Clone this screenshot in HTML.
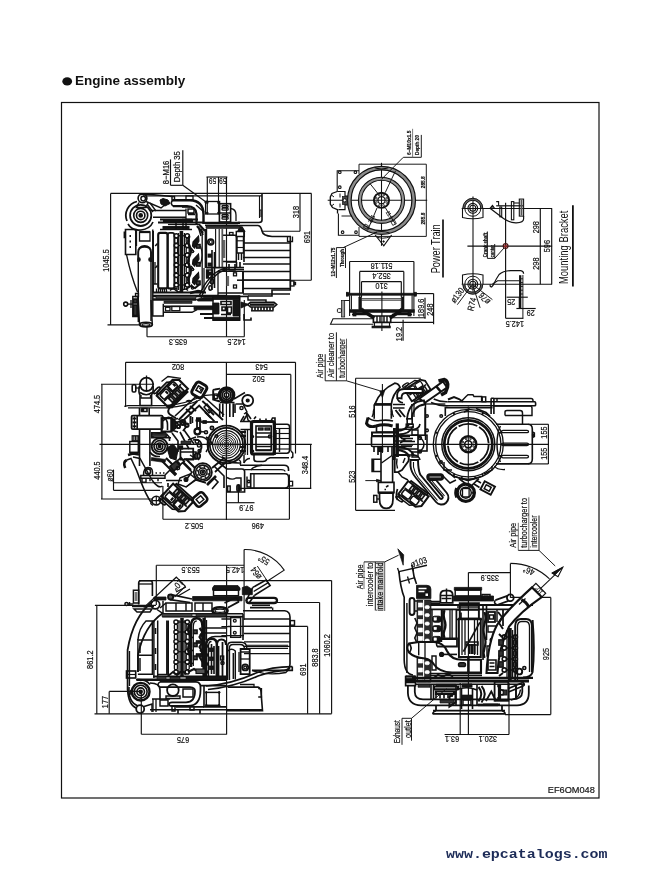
<!DOCTYPE html>
<html><head><meta charset="utf-8"><title>Engine assembly</title>
<style>
html,body{margin:0;padding:0;background:#fff;}
body{width:658px;height:870px;overflow:hidden;position:relative;font-family:"Liberation Sans",sans-serif;}
svg{position:absolute;left:0;top:0;will-change:transform;}
.h1,.ft{will-change:transform;}
svg path,svg circle,svg ellipse,svg rect{fill:none;stroke:#111;stroke-width:1.15;}
svg text{font-family:"Liberation Sans",sans-serif;fill:#111;stroke:#111;stroke-width:0.2;}
.h1{position:absolute;left:75.3px;top:73.5px;transform-origin:0 0;transform:scaleX(1.08);font:bold 12.5px "Liberation Sans",sans-serif;color:#111;white-space:nowrap;}
.ft{position:absolute;left:446px;top:846.7px;font:bold 13.6px "Liberation Mono",monospace;color:#1c2b57;white-space:nowrap;transform-origin:0 0;transform:scaleX(1.1);}
</style></head><body>
<div class="h1">Engine assembly</div>
<div class="ft">www.epcatalogs.com</div>
<svg width="658" height="870" viewBox="0 0 658 870">
<!-- p0_frame -->
<rect x="61.5" y="102.5" width="537.5" height="695.5" style="stroke-width:1.20;stroke:#111"/>
<ellipse cx="67.2" cy="81.4" rx="4.9" ry="4.1" style="stroke-width:0.00;fill:#111"/>
<text transform="translate(571.3 790) rotate(0) scale(1 1)" font-size="9.2" text-anchor="middle" dy="0.35em" style="fill:#222">EF6OM048</text>
<!-- p1_topleft -->
<path d="M110.6 193.4L110.6 324.9"/>
<path d="M110.6 193.4L311.5 193.4"/>
<path d="M107.5 324.9L141 324.9"/>
<text transform="translate(105.6 260.5) rotate(-90) scale(0.82 1)" font-size="9" text-anchor="middle" dy="0.35em">1045.5</text>
<path d="M300 193.4L300 231.2"/>
<path d="M262 231.2L300 231.2"/>
<text transform="translate(296 212) rotate(-90) scale(0.82 1)" font-size="9" text-anchor="middle" dy="0.35em">318</text>
<path d="M311.3 193.4L311.3 280.2"/>
<path d="M237 280.2L311.3 280.2"/>
<text transform="translate(307 237) rotate(-90) scale(0.82 1)" font-size="9" text-anchor="middle" dy="0.35em">691</text>
<path d="M207.3 177L207.3 213.3"/>
<path d="M218.5 177L218.5 213.3"/>
<path d="M226.5 177L226.5 336.7"/>
<path d="M206.5 177L227.3 177"/>
<text transform="translate(212.5 181.6) rotate(180) scale(0.73 1)" font-size="9" text-anchor="middle" dy="0.35em">59</text>
<text transform="translate(222.8 181.6) rotate(180) scale(0.73 1)" font-size="9" text-anchor="middle" dy="0.35em">59</text>
<text transform="translate(165.5 172.4) rotate(-90) scale(0.846 1)" font-size="9" text-anchor="middle" dy="0.35em">8&#8722;M16</text>
<text transform="translate(177 166.7) rotate(-90) scale(0.849 1)" font-size="9" text-anchor="middle" dy="0.35em">Depth 35</text>
<path d="M170.5 159.4L170.5 185.3"/>
<path d="M182.8 150.3L182.8 185.3"/>
<path d="M170.5 185.3L182.8 185.3"/>
<path d="M182.8 185.3L206 202"/>
<path d="M147 326L147 336.7"/>
<path d="M244.3 300L244.3 336.7"/>
<path d="M147 336.7L244.3 336.7"/>
<text transform="translate(178 342.6) rotate(180) scale(0.82 1)" font-size="9" text-anchor="middle" dy="0.35em">635.3</text>
<text transform="translate(236.6 342.6) rotate(180) scale(0.82 1)" font-size="9" text-anchor="middle" dy="0.35em">142.5</text>
<path d="M143 195.8L262 195.8" style="stroke-width:1.30"/>
<path d="M262 193.4V220Q262 222.5 259 222.5H238" style="stroke-width:1.62"/>
<path d="M259.5 196V218" style="stroke-width:1.13"/>
<path d="M259.5 210h1.5v7" style="stroke-width:1.13"/>
<path d="M238 225.5H258Q261 226 262 231Q263 236 272 236.5H290.3V290H272V296H248" style="stroke-width:1.62"/>
<path d="M287.5 236.5V241.5H292.5V236.5" style="stroke-width:1.30"/>
<path d="M243 243L290 243" style="stroke-width:1.30"/>
<path d="M243 250.5L290 250.5" style="stroke-width:1.30"/>
<path d="M243 257.5L290 257.5" style="stroke-width:1.30"/>
<path d="M243 264L290 264" style="stroke-width:1.30"/>
<path d="M243 271.5L290 271.5" style="stroke-width:1.30"/>
<path d="M243 280L290 280" style="stroke-width:1.30"/>
<path d="M243 288.5L290 288.5" style="stroke-width:1.30"/>
<path d="M243 294L290 294" style="stroke-width:1.30"/>
<rect x="290.5" y="281" width="3.5" height="5" style="stroke-width:1.30"/>
<path d="M294 282.5h1.5v2h-1.5z" style="stroke-width:1.30"/>
<path d="M238 231L240 227H242L244.5 231Z" style="stroke-width:1.30;fill:#151515"/>
<path d="M236.3 231.5h8v5h-8zM237 236.5v16.5h6.5v-16.5M238.5 253v7M241.5 253v7" style="stroke-width:1.46"/>
<path d="M237 240.8L243.5 240.8" style="stroke-width:1.13"/>
<path d="M237 247.5L243.5 247.5" style="stroke-width:1.13"/>
<path d="M222.3 235.3H236.3V261.5H222.3" style="stroke-width:1.46"/>
<rect x="229.5" y="232.5" width="3.5" height="2.8" style="stroke-width:1.30"/>
<path d="M224 240L224 258" style="stroke-width:2.59;stroke:#666"/>
<path d="M127 221A14.3 14.3 0 0 1 137 201.5" style="stroke-width:1.78"/>
<circle cx="140.7" cy="215.4" r="10.6" style="stroke-width:1.78"/>
<circle cx="140.7" cy="215.4" r="7" style="stroke-width:1.62"/>
<circle cx="140.7" cy="215.4" r="4.2" style="stroke-width:1.62"/>
<circle cx="140.7" cy="215.4" r="1.6" style="stroke-width:1.46;fill:#151515"/>
<path d="M128 224Q132 231 141 230Q150 229 153 222" style="stroke-width:1.62"/>
<circle cx="142.5" cy="198.3" r="4.4" style="stroke-width:1.62"/>
<circle cx="143.2" cy="198.6" r="2.3" style="stroke-width:1.46"/>
<path d="M140.5 194.4L146 194L172 196.6" style="stroke-width:1.46"/>
<path d="M146 201.5L161 208L166 204" style="stroke-width:1.46"/>
<path d="M160 200L163 198.5L168 200L170 203.5L165 206L161 204Z" style="stroke-width:0.97;fill:#151515"/>
<path d="M139 202.5L136.5 207.5H146L148 203" style="stroke-width:1.46"/>
<path d="M147 204L153 212M150 203L156 211" style="stroke-width:1.30"/>
<path d="M173 200.2H190Q203 200.5 203.5 214V224" style="stroke-width:2.43"/>
<path d="M173 206.2H187Q196 206.5 196.5 214V224" style="stroke-width:2.27"/>
<path d="M173 200.2Q169.5 203 173 206.2" style="stroke-width:1.62"/>
<path d="M172 196.5h2.5v3.5h-2.5z" style="stroke-width:1.46"/>
<path d="M186 195.8h7v4h-7z" style="stroke-width:1.30"/>
<path d="M151 210.5H186M153 217.2H186" style="stroke-width:1.62"/>
<path d="M186 208.5V219" style="stroke-width:1.30"/>
<path d="M182 207h8M182 219.5h10" style="stroke-width:1.30"/>
<path d="M188 209h6v4h-6zM188 214.5h7" style="stroke-width:1.46"/>
<path d="M196 205L204 212" style="stroke-width:1.30"/>
<path d="M158 222.5L204 222.5" style="stroke-width:1.78"/>
<path d="M168 224.5L200 224.5" style="stroke-width:1.30"/>
<path d="M162.5 227.5L189.5 227.5" style="stroke-width:2.92"/>
<path d="M160 229.5H192" style="stroke-width:1.46"/>
<path d="M183 222V230M186 222V230M176 223V229" style="stroke-width:1.46"/>
<path d="M197 226L203 233M199.5 225L205 231" style="stroke-width:2.27"/>
<path d="M204.5 202.5Q206 200.5 208 201.5" style="stroke-width:1.13"/>
<rect x="205.6" y="201.5" width="14" height="12.5" style="stroke-width:1.30"/>
<circle cx="207.3" cy="202.8" r="0.9" style="stroke-width:0.97;fill:#151515"/>
<circle cx="218.5" cy="202.8" r="0.9" style="stroke-width:0.97;fill:#151515"/>
<circle cx="207.3" cy="213" r="0.9" style="stroke-width:0.97;fill:#151515"/>
<circle cx="218.5" cy="213" r="0.9" style="stroke-width:0.97;fill:#151515"/>
<rect x="219.4" y="203.7" width="11.2" height="18.3" style="stroke-width:1.62"/>
<path d="M219.4 213L230.6 213" style="stroke-width:1.46"/>
<rect x="222" y="205.5" width="6.2" height="1.9" style="stroke-width:1.30" rx="0.9"/>
<rect x="222" y="208.2" width="6.2" height="1.9" style="stroke-width:1.30" rx="0.9"/>
<rect x="222" y="214.5" width="6.2" height="1.9" style="stroke-width:1.30" rx="0.9"/>
<rect x="222" y="217.2" width="6.2" height="1.9" style="stroke-width:1.30" rx="0.9"/>
<path d="M230.6 208.5Q236 209 236 215V221" style="stroke-width:1.30"/>
<path d="M204 222.9L240 222.9" style="stroke-width:2.27"/>
<path d="M205 225.2L238 225.2" style="stroke-width:1.46"/>
<path d="M125.5 229.5h10.3v25h-10.3z" style="stroke-width:1.62"/>
<path d="M129.5 236L131 236" style="stroke-width:1.94"/>
<path d="M129.5 241.5L131 241.5" style="stroke-width:1.94"/>
<path d="M129.5 247L131 247" style="stroke-width:1.94"/>
<path d="M124.3 231.5v6h1.2" style="stroke-width:1.46"/>
<path d="M126.5 254.5Q131 276 137.5 292" style="stroke-width:1.30"/>
<path d="M136.4 229.5V246M152.8 229.5V300" style="stroke-width:1.46"/>
<path d="M139.5 232h10.5v9h-10.5z" style="stroke-width:1.30"/>
<path d="M139.5 232L150 232" style="stroke-width:2.27"/>
<path d="M138.2 262V252Q138.2 246.7 144.6 246.7Q151 246.7 151 252V262" style="stroke-width:1.94"/>
<path d="M139.2 248Q144.6 243.5 150 248" style="stroke-width:1.62"/>
<path d="M138.3 262L138.3 322" style="stroke-width:1.46"/>
<path d="M151 262L151 321" style="stroke-width:1.46"/>
<path d="M138.3 300L139.5 324.5M151 300L152.3 324.5" style="stroke-width:1.46"/>
<ellipse cx="139" cy="259.5" rx="1.1" ry="1.6" style="stroke-width:1.30;fill:#151515"/>
<ellipse cx="150" cy="259.5" rx="1.1" ry="1.6" style="stroke-width:1.30;fill:#151515"/>
<ellipse cx="146" cy="324.6" rx="6.3" ry="2.3" style="stroke-width:1.78"/>
<ellipse cx="146" cy="324.8" rx="4" ry="1.2" style="stroke-width:1.13"/>
<circle cx="125.7" cy="304.1" r="2" style="stroke-width:1.62"/>
<path d="M127.7 304.1L132.8 304.1" style="stroke-width:1.30"/>
<path d="M132.8 296.5h5v20h-5z" style="stroke-width:1.46"/>
<path d="M133.6 299h3.4v4h-3.4zM133.6 305h3.4v10.5h-3.4z" style="stroke-width:1.30;fill:#333"/>
<path d="M131 300v8" style="stroke-width:1.30"/>
<path d="M135.5 293.5h3v3h-3z" style="stroke-width:1.30"/>
<rect x="158.2" y="232.9" width="9.3" height="55.5" style="stroke-width:2.11" rx="2"/>
<rect x="167.8" y="232.9" width="6.5" height="55.5" style="stroke-width:1.78" rx="2"/>
<path d="M153.3 231V292" style="stroke-width:1.46"/>
<path d="M155.2 246L157.5 243.5M155.2 268L157.5 265.5" style="stroke-width:1.46"/>
<path d="M155 262v22M153.5 284h4" style="stroke-width:1.30"/>
<path d="M181.4 231L181.4 292" style="stroke-width:3.56"/>
<path d="M184.4 233L184.4 290" style="stroke-width:1.30"/>
<path d="M178.6 233L178.6 290" style="stroke-width:1.13"/>
<circle cx="176.3" cy="235.8" r="2.1" style="stroke-width:1.46"/>
<circle cx="187.3" cy="235.8" r="2.1" style="stroke-width:1.46"/>
<path d="M178.5 235.8h6" style="stroke-width:1.30"/>
<circle cx="176.3" cy="245.5" r="2.1" style="stroke-width:1.46"/>
<circle cx="187.3" cy="245.5" r="2.1" style="stroke-width:1.46"/>
<path d="M178.5 245.5h6" style="stroke-width:1.30"/>
<circle cx="176.3" cy="255.2" r="2.1" style="stroke-width:1.46"/>
<circle cx="187.3" cy="255.2" r="2.1" style="stroke-width:1.46"/>
<path d="M178.5 255.2h6" style="stroke-width:1.30"/>
<circle cx="176.3" cy="265" r="2.1" style="stroke-width:1.46"/>
<circle cx="187.3" cy="265" r="2.1" style="stroke-width:1.46"/>
<path d="M178.5 265h6" style="stroke-width:1.30"/>
<circle cx="176.3" cy="275.3" r="2.1" style="stroke-width:1.46"/>
<circle cx="187.3" cy="275.3" r="2.1" style="stroke-width:1.46"/>
<path d="M178.5 275.3h6" style="stroke-width:1.30"/>
<circle cx="176.3" cy="285" r="2.1" style="stroke-width:1.46"/>
<circle cx="187.3" cy="285" r="2.1" style="stroke-width:1.46"/>
<path d="M178.5 285h6" style="stroke-width:1.30"/>
<rect x="174.6" y="237.9" width="3" height="5.2" style="stroke-width:1.30" rx="1"/>
<rect x="186.2" y="237.9" width="3" height="5.2" style="stroke-width:1.30" rx="1"/>
<rect x="174.6" y="247.7" width="3" height="5.2" style="stroke-width:1.30" rx="1"/>
<rect x="186.2" y="247.7" width="3" height="5.2" style="stroke-width:1.30" rx="1"/>
<rect x="174.6" y="257.4" width="3" height="5.2" style="stroke-width:1.30" rx="1"/>
<rect x="186.2" y="257.4" width="3" height="5.2" style="stroke-width:1.30" rx="1"/>
<rect x="174.6" y="267.4" width="3" height="5.2" style="stroke-width:1.30" rx="1"/>
<rect x="186.2" y="267.4" width="3" height="5.2" style="stroke-width:1.30" rx="1"/>
<rect x="174.6" y="277.4" width="3" height="5.2" style="stroke-width:1.30" rx="1"/>
<rect x="186.2" y="277.4" width="3" height="5.2" style="stroke-width:1.30" rx="1"/>
<path d="M193 242L198.5 236L199 241L194.5 248L192.5 246Z" style="stroke-width:1.13;fill:#151515"/>
<rect x="196.5" y="244.5" width="3.6" height="3.6" style="stroke-width:1.46;fill:#444"/>
<path d="M191 248l3 4" style="stroke-width:1.46"/>
<circle cx="192.5" cy="251.5" r="1.1" style="stroke-width:1.30"/>
<path d="M193 260L198.5 254L199 259L194.5 266L192.5 264Z" style="stroke-width:1.13;fill:#151515"/>
<rect x="196.5" y="262.5" width="3.6" height="3.6" style="stroke-width:1.46;fill:#444"/>
<path d="M191 266l3 4" style="stroke-width:1.46"/>
<circle cx="192.5" cy="269.5" r="1.1" style="stroke-width:1.30"/>
<path d="M193 278.5L198.5 272.5L199 277.5L194.5 284.5L192.5 282.5Z" style="stroke-width:1.13;fill:#151515"/>
<rect x="196.5" y="281" width="3.6" height="3.6" style="stroke-width:1.46;fill:#444"/>
<path d="M191 284.5l3 4" style="stroke-width:1.46"/>
<circle cx="192.5" cy="288" r="1.1" style="stroke-width:1.30"/>
<path d="M199 229l2 7M201 229l2 6" style="stroke-width:1.62"/>
<path d="M202.2 231L202.2 290" style="stroke-width:1.30"/>
<path d="M205.9 229L205.9 268" style="stroke-width:2.59"/>
<path d="M204 268L204 292" style="stroke-width:1.30"/>
<path d="M200.5 246Q203.5 255 200.5 264" style="stroke-width:1.13"/>
<circle cx="210.7" cy="242" r="2.9" style="stroke-width:1.78"/>
<circle cx="210.7" cy="242" r="1.5" style="stroke-width:1.13"/>
<path d="M215.6 229L215.6 268" style="stroke-width:1.13"/>
<path d="M219.2 229L219.2 268" style="stroke-width:1.13"/>
<path d="M222.3 229L222.3 268" style="stroke-width:1.78;stroke:#555"/>
<path d="M199 297Q203 285 210 278Q217 269 228 267.6" style="stroke-width:1.46"/>
<path d="M201 298Q206 285 213 278Q219 271 228 269.5" style="stroke-width:1.30"/>
<path d="M206.5 270h6v8h-6z" style="stroke-width:1.30"/>
<path d="M208 270v8" style="stroke-width:2.11"/>
<ellipse cx="212" cy="281.5" rx="1.6" ry="2.6" style="stroke-width:1.46"/>
<ellipse cx="210.3" cy="288" rx="1.4" ry="2.2" style="stroke-width:1.46"/>
<path d="M206 267.6L244 267.6" style="stroke-width:1.62"/>
<path d="M222 269.5L244 269.5" style="stroke-width:1.13"/>
<path d="M218 271.2H243V293H218" style="stroke-width:1.62"/>
<path d="M218 271.2L218 296" style="stroke-width:1.30"/>
<rect x="233.5" y="272.8" width="3" height="3" style="stroke-width:1.30"/>
<rect x="233.5" y="285" width="3" height="3" style="stroke-width:1.30"/>
<path d="M227.8 276L227.8 286" style="stroke-width:2.59;stroke:#666"/>
<path d="M237 280.2L244 280.2" style="stroke-width:1.30"/>
<path d="M243 271v22" style="stroke-width:1.62"/>
<path d="M152.8 292.5L206 292.5" style="stroke-width:1.78"/>
<path d="M152.8 296L226 296" style="stroke-width:2.27"/>
<path d="M156.5 288.5L156.5 292.5" style="stroke-width:1.30"/>
<path d="M158.5 288.5L158.5 292.5" style="stroke-width:1.30"/>
<path d="M160.5 288.5L160.5 292.5" style="stroke-width:1.30"/>
<path d="M162.5 288.5L162.5 292.5" style="stroke-width:1.30"/>
<path d="M164.5 288.5L164.5 292.5" style="stroke-width:1.30"/>
<path d="M166.5 288.5L166.5 292.5" style="stroke-width:1.30"/>
<path d="M168 288.5h9v4M170 290.5q3 -3 6 0q3 3 6 0q3 -3 6 0" style="stroke-width:1.46"/>
<path d="M186 289l5 -3l4 2l5 -4" style="stroke-width:1.94"/>
<path d="M190 293l8 -2l6 1" style="stroke-width:2.43"/>
<path d="M152.8 299.5L196 299.5" style="stroke-width:2.43"/>
<path d="M152.8 300V316H163.3V303.8" style="stroke-width:1.46"/>
<path d="M163.3 306.2H194M163.3 312.3H192L197 309.7" style="stroke-width:1.46"/>
<rect x="165.5" y="307.3" width="4.5" height="3.5" style="stroke-width:1.30"/>
<rect x="171.8" y="306.5" width="8" height="4.2" style="stroke-width:1.30"/>
<path d="M194 305.9H215.3V309.7H194Z" style="stroke-width:0.81;fill:#151515"/>
<path d="M196 299.5L204 297.5H213V301H198Z" style="stroke-width:0.81;fill:#151515"/>
<path d="M213 296H239.7V320.3H213Z" style="stroke-width:1.46"/>
<path d="M213 296H239.7V299.5H213ZM213 317.3H239.7V320.3H213ZM213 303H219V314H213ZM233 300H239.7V316H233Z" style="stroke-width:0.81;fill:#151515"/>
<path d="M221 301.5h10v3h-10zM222 307h3.4v3.4h-3.4zM227.5 307h4v6h-4zM221 314.5h10" style="stroke-width:1.62"/>
<path d="M241 302L249 304.5L241 308Z" style="stroke-width:0.81;fill:#151515"/>
<path d="M200 314H213M204 318H213" style="stroke-width:1.94"/>
<path d="M238 296.5L248 296.3V300H266V303" style="stroke-width:1.46"/>
<path d="M250.5 302.3H274L276.7 304.6L274 307H250.5L247.8 304.6Z" style="stroke-width:1.62"/>
<path d="M250 304.6L274.5 304.6" style="stroke-width:2.43"/>
<path d="M252 307L252 310.5" style="stroke-width:1.62"/>
<path d="M255 307L255 310.5" style="stroke-width:1.62"/>
<path d="M258 307L258 310.5" style="stroke-width:1.62"/>
<path d="M261 307L261 310.5" style="stroke-width:1.62"/>
<path d="M264 307L264 310.5" style="stroke-width:1.62"/>
<path d="M267 307L267 310.5" style="stroke-width:1.62"/>
<path d="M270 307L270 310.5" style="stroke-width:1.62"/>
<path d="M273 307L273 310.5" style="stroke-width:1.62"/>
<path d="M251 310.8L273.5 310.8" style="stroke-width:1.46"/>
<path d="M244 314v6h7v-2.5" style="stroke-width:1.62"/>
<path d="M189.5 236q-2.5 5 0 10q2.5 5 0 10q-2.5 5 0 10q2.5 5 0 10q-2.5 4 0 8" style="stroke-width:2.43"/>
<path d="M212 250V290M214.5 252V288" style="stroke-width:1.62"/>
<rect x="208" y="254" width="3.6" height="3.2" style="stroke-width:0.81;fill:#151515"/>
<rect x="208" y="263" width="3.6" height="3.2" style="stroke-width:0.81;fill:#151515"/>
<rect x="208" y="272" width="3.6" height="3.2" style="stroke-width:0.81;fill:#151515"/>
<path d="M226.5 262h10M229 264v6h6v-6" style="stroke-width:1.62"/>
<path d="M164 301h28v2.4h-28z" style="stroke-width:0.65;fill:#333"/>
<path d="M156 296h40v2.6h-40z" style="stroke-width:0.65;fill:#444"/>
<path d="M160 219.5h38M163 221h30" style="stroke-width:2.11"/>
<path d="M206 226h34v2.4h-34z" style="stroke-width:0.65;fill:#333"/>
<path d="M236.5 262V268M240 262V268" style="stroke-width:1.62"/>
<path d="M244 232V262" style="stroke-width:1.62"/>
<!-- p2_midleft -->
<path d="M125.6 362.3L295.5 362.3"/>
<path d="M125.6 362.3L125.6 407"/>
<path d="M295.5 362.3L295.5 453.5"/>
<path d="M226.4 362.3L226.4 520"/>
<text transform="translate(178 367.2) rotate(180) scale(0.82 1)" font-size="9" text-anchor="middle" dy="0.35em">802</text>
<text transform="translate(261.6 367.2) rotate(180) scale(0.82 1)" font-size="9" text-anchor="middle" dy="0.35em">543</text>
<path d="M226.4 374.4L290.8 374.4"/>
<path d="M290.8 374.4L290.8 451"/>
<text transform="translate(258.6 379.5) rotate(180) scale(0.82 1)" font-size="9" text-anchor="middle" dy="0.35em">502</text>
<path d="M101.9 384.2L101.9 499"/>
<path d="M101 384.2L153.4 384.2"/>
<path d="M99.5 444.4L311.8 444.4"/>
<path d="M101 499L153 499"/>
<text transform="translate(96.8 404) rotate(-90) scale(0.82 1)" font-size="9" text-anchor="middle" dy="0.35em">474.5</text>
<text transform="translate(96.8 470.5) rotate(-90) scale(0.82 1)" font-size="9" text-anchor="middle" dy="0.35em">440.5</text>
<text transform="translate(109.5 475.5) rotate(-90) scale(0.8 1)" font-size="9" text-anchor="middle" dy="0.35em">&#248;60</text>
<path d="M113.5 469.6L113.5 490.3"/>
<path d="M113.5 482.7L162 482.7"/>
<path d="M113.5 490.3L160 490.3"/>
<path d="M310.6 444.4L310.6 488.3"/>
<path d="M238.4 488.3L311.3 488.3"/>
<text transform="translate(305.3 465) rotate(-90) scale(0.82 1)" font-size="9" text-anchor="middle" dy="0.35em">348.4</text>
<path d="M162.9 519.2L289.4 519.2"/>
<path d="M162.9 486L162.9 519.2"/>
<path d="M289.4 474.5L289.4 519.2"/>
<text transform="translate(194 525.7) rotate(180) scale(0.82 1)" font-size="9" text-anchor="middle" dy="0.35em">505.2</text>
<text transform="translate(257.8 525.7) rotate(180) scale(0.82 1)" font-size="9" text-anchor="middle" dy="0.35em">496</text>
<path d="M226.4 502.7L254.5 502.7"/>
<path d="M238.4 486L238.4 502.7"/>
<text transform="translate(246.3 508.3) rotate(180) scale(0.82 1)" font-size="9" text-anchor="middle" dy="0.35em">97.9</text>
<circle cx="146.5" cy="384.3" r="6.7" style="stroke-width:1.78"/>
<path d="M146.5 375.5L146.5 390" style="stroke-width:1.30"/>
<path d="M139.4 386Q138.2 392.5 140 395V405.5H151.6V395Q153.8 391 153.2 386" style="stroke-width:1.62"/>
<path d="M140 392.5Q146.5 397 152 392.5" style="stroke-width:1.62"/>
<path d="M141 395v3h9.5v-3" style="stroke-width:1.30"/>
<rect x="132.2" y="384.8" width="3.6" height="7.2" style="stroke-width:1.62" rx="1.2"/>
<path d="M135.8 388L139.4 388" style="stroke-width:1.30"/>
<path d="M124.3 406.3L128 405.6H170M128 407.9H168" style="stroke-width:1.30"/>
<path d="M139.5 408V415.5M149.2 408V415.5M142 408.5h5v3h-5z" style="stroke-width:1.62"/>
<rect x="141.2" y="409.3" width="2.4" height="2" style="stroke-width:1.13;fill:#151515"/>
<rect x="131.6" y="415.6" width="31" height="13.6" style="stroke-width:1.78" rx="1.2"/>
<path d="M137.2 415.6V429.2" style="stroke-width:1.62"/>
<path d="M132.5 418.5L136.5 418.5" style="stroke-width:1.94"/>
<path d="M132.5 422.4L136.5 422.4" style="stroke-width:1.94"/>
<path d="M132.5 426.3L136.5 426.3" style="stroke-width:1.94"/>
<path d="M134.4 416.5L134.4 428.5" style="stroke-width:1.13"/>
<path d="M162.6 417Q167.5 419 167.5 424.5V430" style="stroke-width:1.62"/>
<path d="M139.5 429.2V466M149.9 429.2V466" style="stroke-width:1.62"/>
<rect x="132.2" y="435.8" width="6.1" height="5" style="stroke-width:1.30"/>
<path d="M133.8 436L133.8 440.5" style="stroke-width:1.13"/>
<path d="M135.4 436L135.4 440.5" style="stroke-width:1.13"/>
<path d="M137 436L137 440.5" style="stroke-width:1.13"/>
<rect x="129.8" y="441.5" width="8.5" height="10.8" style="stroke-width:1.46"/>
<path d="M128 455L133 453.5L139 454.5" style="stroke-width:2.59"/>
<circle cx="159.6" cy="446.2" r="7.9" style="stroke-width:1.94"/>
<circle cx="159.6" cy="446.2" r="5.6" style="stroke-width:1.62"/>
<circle cx="159.6" cy="446.2" r="3.2" style="stroke-width:1.46"/>
<circle cx="159.6" cy="446.2" r="1.3" style="stroke-width:1.30;fill:#151515"/>
<path d="M151.5 434H166.5L169.5 437.5V441" style="stroke-width:1.62"/>
<path d="M152 436.5Q159 431.5 167 436.5" style="stroke-width:2.11"/>
<path d="M150 452Q153 457 160 456.5" style="stroke-width:1.62"/>
<g transform="translate(172.3 392.3) rotate(45) scale(1 1)">
<path d="M-8.5 13.5V-9L-4 -13.5H8.5V13.5Z" style="stroke-width:2.11"/>
<path d="M0.5 -12V12" style="stroke-width:1.62"/>
<rect x="-7" y="-8.5" width="6.5" height="8.5" style="stroke-width:1.62" rx="1.5"/>
<rect x="-7" y="1.5" width="6.5" height="9.5" style="stroke-width:1.62" rx="1.5"/>
<rect x="1.8" y="-9.5" width="5.4" height="3" style="stroke-width:1.62;fill:#bbb"/>
<rect x="1.8" y="-5" width="5.4" height="3" style="stroke-width:1.62;fill:#bbb"/>
<rect x="1.8" y="-0.5" width="5.4" height="3" style="stroke-width:1.62;fill:#bbb"/>
<rect x="1.8" y="4" width="5.4" height="3" style="stroke-width:1.62;fill:#bbb"/>
<path d="M-8.5 -1H0.5" style="stroke-width:1.62"/>
<path d="M-5.5 -6.5h3.5M-5.5 4h3.5" style="stroke-width:2.27"/>
<path d="M8.5 -11H10.5V11H8.5" style="stroke-width:1.94"/>
<path d="M-8.5 -6L-11 -3V10L-8.5 13.5" style="stroke-width:1.62"/>
<ellipse cx="-12.2" cy="9.5" rx="1.5" ry="4.2" style="stroke-width:1.78"/>
</g>
<path d="M161.5 381.5L168 376.5L181 378.3" style="stroke-width:1.30"/>
<g transform="translate(199.3 390) rotate(30)">
<rect x="-6" y="-7" width="12" height="14" style="stroke-width:2.92" rx="3"/>
<rect x="-2.8" y="-3.2" width="5.6" height="5" style="stroke-width:1.62"/>
<path d="M-1 -1.5h2.5v2" style="stroke-width:1.30"/>
<path d="M-5.5 -3.5Q-8 0 -5.5 3.5" style="stroke-width:1.62"/>
</g>
<path d="M178.6 420L197.4 401M181.6 422L199.2 405.5L214.4 421.3M202.3 401L223 420" style="stroke-width:1.94"/>
<path d="M169 409L187 391M175 416L196.5 396" style="stroke-width:1.62"/>
<path d="M203 396L224 415" style="stroke-width:1.62"/>
<path d="M167 405.5Q185 404 200 397Q210 393.5 219 396" style="stroke-width:1.30"/>
<path d="M168 407.5Q186 406.5 201 399.5" style="stroke-width:1.30"/>
<path d="M186 401.5q3 -2 6 0M207 404l5 6l-3 3l-5 -6z" style="stroke-width:1.46"/>
<path d="M169 409Q167 412 170 414.5L175.9 418.2" style="stroke-width:1.94"/>
<path d="M163 421Q168 414 174 420L180 426" style="stroke-width:1.62"/>
<rect x="161.6" y="418.2" width="9.7" height="13.4" style="stroke-width:2.11"/>
<path d="M171.3 420L178 418.5M171.3 430L178 432" style="stroke-width:1.46"/>
<circle cx="226.6" cy="395" r="7" style="stroke-width:3.56"/>
<circle cx="226.6" cy="395" r="4.3" style="stroke-width:1.78"/>
<circle cx="226.6" cy="395" r="2.3" style="stroke-width:1.62"/>
<path d="M213.2 391Q213 389.5 215 389.5L220 388.6M213.2 391V399.5L220 401.5" style="stroke-width:1.94"/>
<rect x="214.3" y="394" width="3" height="4.5" style="stroke-width:1.30"/>
<path d="M220 402.5h14.5M219.7 403.5V417M222.8 403.5V417M229.8 403.5V417M233.2 403.5V417M235 403.5V413" style="stroke-width:1.62"/>
<circle cx="247.7" cy="400.5" r="5.5" style="stroke-width:1.78"/>
<circle cx="247.7" cy="400.5" r="1.3" style="stroke-width:1.62;fill:#151515"/>
<path d="M234 399L245 392.5M236 404L243 404" style="stroke-width:1.46"/>
<path d="M243.5 405L247 412L244 414" style="stroke-width:1.46"/>
<circle cx="241.5" cy="408" r="1.6" style="stroke-width:1.46"/>
<path d="M246 412l2 8l4 3M244 416l-3 5" style="stroke-width:1.46"/>
<circle cx="226.4" cy="444.4" r="18.8" style="stroke-width:1.94"/>
<circle cx="226.4" cy="444.4" r="16.6" style="stroke-width:1.78"/>
<circle cx="226.4" cy="444.4" r="13.8" style="stroke-width:1.30"/>
<circle cx="226.4" cy="444.4" r="11.6" style="stroke-width:0.97"/>
<circle cx="226.4" cy="444.4" r="9.6" style="stroke-width:0.97"/>
<circle cx="226.4" cy="444.4" r="7.8" style="stroke-width:0.97"/>
<circle cx="226.4" cy="444.4" r="6" style="stroke-width:0.97"/>
<circle cx="226.4" cy="444.4" r="4.3" style="stroke-width:0.97"/>
<circle cx="226.4" cy="444.4" r="2.6" style="stroke-width:0.97"/>
<circle cx="226.4" cy="444.4" r="1.2" style="stroke-width:0.97"/>
<path d="M196 418.2h5M197 418.2V428h3V418.2M195.5 420.5h6" style="stroke-width:1.78"/>
<rect x="196.8" y="419" width="3.4" height="2.2" style="stroke-width:0.97;fill:#151515"/>
<circle cx="197.4" cy="431.6" r="2.9" style="stroke-width:2.27"/>
<circle cx="206" cy="432.2" r="1.5" style="stroke-width:1.62"/>
<path d="M200.3 431.8h4.2" style="stroke-width:1.46"/>
<path d="M201 422L218 422" style="stroke-width:1.78"/>
<rect x="203" y="420.8" width="3.2" height="2.4" style="stroke-width:1.30;fill:#151515"/>
<path d="M190.5 416L190.5 424" style="stroke-width:2.11"/>
<path d="M192.5 417L192.5 423" style="stroke-width:1.46"/>
<circle cx="182.8" cy="422.5" r="2.3" style="stroke-width:2.59"/>
<circle cx="186.8" cy="425.3" r="1.7" style="stroke-width:2.11"/>
<circle cx="178.5" cy="426.5" r="1.6" style="stroke-width:1.94"/>
<path d="M176 423q4 -3 8 0l2 4l-3 4" style="stroke-width:1.94"/>
<path d="M172 418l4 4v6l-4 3z" style="stroke-width:1.46;fill:#151515"/>
<path d="M184 430L194 444M180 432L189 449" style="stroke-width:1.62"/>
<path d="M193 440Q199 438.5 201 443Q203 448 199 452Q196 456 199 460" style="stroke-width:1.78"/>
<path d="M197 437Q205 436 208 441Q210 446 206 452" style="stroke-width:1.46"/>
<circle cx="197.4" cy="456" r="2.8" style="stroke-width:1.78"/>
<circle cx="199" cy="445.5" r="1.6" style="stroke-width:1.46"/>
<rect x="180.4" y="448.6" width="12.8" height="11" style="stroke-width:1.78"/>
<path d="M172 433L178 441V452" style="stroke-width:1.62"/>
<path d="M171 437.7H151.8V432.8H166" style="stroke-width:1.62"/>
<path d="M167 448L173 444L178 450L176 460L170 458Z" style="stroke-width:0.97;fill:#151515"/>
<rect x="178.5" y="446" width="4" height="3" style="stroke-width:1.30;fill:#151515"/>
<path d="M166 458L178 470M162 461L176 475" style="stroke-width:2.11"/>
<g transform="translate(175 466) rotate(-40)">
<rect x="-4" y="-3" width="8" height="6" style="stroke-width:1.62;fill:#333"/>
<rect x="5" y="-2.5" width="5" height="5" style="stroke-width:1.62"/>
</g>
<circle cx="178" cy="468" r="1.6" style="stroke-width:1.46"/>
<path d="M181 452H196V459H184" style="stroke-width:1.46"/>
<path d="M182 462L192 472L186 480" style="stroke-width:1.62"/>
<circle cx="197" cy="441.5" r="1.8" style="stroke-width:1.46"/>
<circle cx="199.5" cy="451" r="1.5" style="stroke-width:1.46"/>
<path d="M188 440l8 -3M190 455l6 4" style="stroke-width:1.46"/>
<path d="M126.8 460Q122.5 462 125.2 468" style="stroke-width:2.59"/>
<path d="M126.8 460L131 458.5Q137 470 141 482Q146 495 151.5 503" style="stroke-width:1.62"/>
<path d="M133 457L140 458.5L152 480" style="stroke-width:1.46"/>
<path d="M140.8 475.5H165V478.3H140.8ZM142 478.3V482.3H146V478.3M150 478.3v3M158 478.3v3" style="stroke-width:1.46"/>
<circle cx="148" cy="471.5" r="2.6" style="stroke-width:1.62"/>
<path d="M143.5 475.5Q143.5 467.5 148 467.5Q152.5 467.5 152.5 472V475.5" style="stroke-width:1.46"/>
<path d="M155.5 473L157 473" style="stroke-width:1.62"/>
<path d="M159.5 473L161 473" style="stroke-width:1.62"/>
<path d="M163 473L164.5 473" style="stroke-width:1.62"/>
<path d="M165 475L170 470L175 474" style="stroke-width:1.46"/>
<circle cx="156.3" cy="500.6" r="4.4" style="stroke-width:1.62"/>
<path d="M156.3 496.5V504.7M152.3 500.6H160.3" style="stroke-width:1.13"/>
<path d="M150.4 503.3L153 505.5M160 497L164 492.7" style="stroke-width:1.46"/>
<path d="M152 480Q158 489 162.5 486" style="stroke-width:1.46"/>
<circle cx="202.8" cy="472.3" r="9.1" style="stroke-width:1.78"/>
<circle cx="202.8" cy="472.3" r="7.2" style="stroke-width:1.62"/>
<circle cx="202.8" cy="472.3" r="4.2" style="stroke-width:1.46"/>
<circle cx="202.8" cy="472.3" r="2.4" style="stroke-width:1.46"/>
<circle cx="202.8" cy="472.3" r="1" style="stroke-width:1.13;fill:#151515"/>
<circle cx="208.2" cy="474" r="0.6" style="stroke-width:0.81;fill:#151515"/>
<circle cx="205.5" cy="477.3" r="0.6" style="stroke-width:0.81;fill:#151515"/>
<circle cx="201.1" cy="477.7" r="0.6" style="stroke-width:0.81;fill:#151515"/>
<circle cx="197.8" cy="475" r="0.6" style="stroke-width:0.81;fill:#151515"/>
<circle cx="197.4" cy="470.6" r="0.6" style="stroke-width:0.81;fill:#151515"/>
<circle cx="200.1" cy="467.3" r="0.6" style="stroke-width:0.81;fill:#151515"/>
<circle cx="204.5" cy="466.9" r="0.6" style="stroke-width:0.81;fill:#151515"/>
<circle cx="207.8" cy="469.6" r="0.6" style="stroke-width:0.81;fill:#151515"/>
<g transform="translate(177.5 499) rotate(-48) scale(1 -1)">
<path d="M-8.5 13.5V-9L-4 -13.5H8.5V13.5Z" style="stroke-width:2.11"/>
<path d="M0.5 -12V12" style="stroke-width:1.62"/>
<rect x="-7" y="-8.5" width="6.5" height="8.5" style="stroke-width:1.62" rx="1.5"/>
<rect x="-7" y="1.5" width="6.5" height="9.5" style="stroke-width:1.62" rx="1.5"/>
<rect x="1.8" y="-9.5" width="5.4" height="3" style="stroke-width:1.62;fill:#bbb"/>
<rect x="1.8" y="-5" width="5.4" height="3" style="stroke-width:1.62;fill:#bbb"/>
<rect x="1.8" y="-0.5" width="5.4" height="3" style="stroke-width:1.62;fill:#bbb"/>
<rect x="1.8" y="4" width="5.4" height="3" style="stroke-width:1.62;fill:#bbb"/>
<path d="M-8.5 -1H0.5" style="stroke-width:1.62"/>
<path d="M-5.5 -6.5h3.5M-5.5 4h3.5" style="stroke-width:2.27"/>
<path d="M8.5 -11H10.5V11H8.5" style="stroke-width:1.94"/>
<path d="M-8.5 -6L-11 -3V10L-8.5 13.5" style="stroke-width:1.62"/>
<ellipse cx="-12.2" cy="9.5" rx="1.5" ry="4.2" style="stroke-width:1.78"/>
</g>
<g transform="translate(200 499.5) rotate(-40)">
<rect x="-6.5" y="-5.5" width="13" height="11" style="stroke-width:2.59" rx="3"/>
<rect x="-3" y="-2.5" width="6" height="5" style="stroke-width:1.46"/>
</g>
<path d="M186 487L196 480L206 483" style="stroke-width:1.46"/>
<path d="M180 478L190 474L196 479L186 487L178 484Z" style="stroke-width:1.46"/>
<circle cx="186" cy="479.5" r="1.9" style="stroke-width:1.30;fill:#151515"/>
<path d="M208 483L214 478L218 482L212 489" style="stroke-width:1.62"/>
<path d="M212 468L224 458M215 472L226 462" style="stroke-width:1.78"/>
<path d="M207 485L216 476" style="stroke-width:2.59"/>
<rect x="251.5" y="421.5" width="22.8" height="32.5" style="stroke-width:3.24" rx="2"/>
<rect x="256" y="426" width="15.2" height="24" style="stroke-width:1.62"/>
<path d="M256 433h15.2M256 437h15.2M256 446.5h15.2M256 450.5h15.2" style="stroke-width:1.46"/>
<rect x="258.5" y="428" width="4.5" height="2" style="stroke-width:1.30;fill:#555"/>
<rect x="265" y="428" width="4.5" height="2" style="stroke-width:1.30;fill:#555"/>
<circle cx="270" cy="436.5" r="1.6" style="stroke-width:1.46"/>
<circle cx="252.7" cy="436.5" r="0.9" style="stroke-width:1.30"/>
<circle cx="252.7" cy="451" r="0.9" style="stroke-width:1.30"/>
<path d="M254 419l2 -2.5M260 420.5v-2M266 420.5v-2M271 421l1.5 -3h2.5V455" style="stroke-width:1.62"/>
<path d="M274.5 424.3H287Q289.5 424.3 289.5 427V450Q289.5 453.2 287 453.2H274.5" style="stroke-width:1.46"/>
<path d="M274.5 428.5L289.5 428.5" style="stroke-width:1.13"/>
<path d="M274.5 433.5L289.5 433.5" style="stroke-width:1.13"/>
<path d="M274.5 438.5L289.5 438.5" style="stroke-width:1.13"/>
<path d="M274.5 449L289.5 449" style="stroke-width:1.13"/>
<path d="M291 451l1.8 2v4l-1.8 1" style="stroke-width:1.46"/>
<path d="M240 421.5H251.5M243 421.5L247.5 414L251 419" style="stroke-width:1.62"/>
<path d="M245 430V455M247.5 430V455" style="stroke-width:1.30"/>
<path d="M240.5 429.5H251.5" style="stroke-width:1.46"/>
<path d="M254 455V459Q254 461.5 257 461.5H263Q266 461.5 267 459L270 457.8H289" style="stroke-width:1.62"/>
<path d="M244 463Q246 458.5 250 458.5" style="stroke-width:1.46"/>
<path d="M240 465.3H284Q288.5 465.3 288.5 469V471" style="stroke-width:1.62"/>
<path d="M262 465.3Q254 466 250.7 470" style="stroke-width:1.46"/>
<path d="M244.6 469.6H281Q285 469.6 285 471.5" style="stroke-width:1.30"/>
<path d="M250.7 473.7H285Q288.7 473.7 288.7 478V484Q288.7 488.1 285 488.1H250.7Z" style="stroke-width:1.62"/>
<path d="M254 474L254 488" style="stroke-width:1.30"/>
<rect x="289" y="481.3" width="3.6" height="4.6" style="stroke-width:1.30"/>
<path d="M247 476.5v10.5h3.7" style="stroke-width:1.46"/>
<circle cx="248.8" cy="481.5" r="1.3" style="stroke-width:1.46"/>
<path d="M227 469H242Q244.6 469 244.6 471.5V492H227" style="stroke-width:1.62"/>
<path d="M227 477.5Q232 480.5 236 478H241V491" style="stroke-width:1.46"/>
<rect x="227.6" y="486" width="2.6" height="5.4" style="stroke-width:1.46"/>
<rect x="237" y="485" width="2.8" height="6.2" style="stroke-width:1.78" rx="1.3"/>
<path d="M218 462L227 469M214 466L224 476V488" style="stroke-width:1.62"/>
<path d="M222 456.5Q228 463.5 240 463" style="stroke-width:1.62"/>
<path d="M244 455V463" style="stroke-width:1.46"/>
<path d="M238.5 459.5Q242 461.5 240 465" style="stroke-width:1.30"/>
<path d="M152 434h14v2.5h-14z" style="stroke-width:0.65;fill:#333"/>
<path d="M151.5 457.5L166 459.5L165 462.5L151 460.5Z" style="stroke-width:0.65;fill:#151515"/>
<path d="M186 409l6 5M190 406l6 5" style="stroke-width:2.11"/>
<path d="M205 412l6 6M208 409l6 6" style="stroke-width:1.94"/>
<circle cx="212" cy="428" r="1.6" style="stroke-width:1.78"/>
<circle cx="216.5" cy="436" r="1.3" style="stroke-width:1.62"/>
<path d="M206 437q5 2 6 8" style="stroke-width:1.62"/>
<path d="M181 441h10v3h-10z" style="stroke-width:0.65;fill:#333"/>
<path d="M183 462l8 8M186 459l9 9" style="stroke-width:2.11"/>
<path d="M166 480.5H182M168 483V487" style="stroke-width:1.62"/>
<path d="M171 470l5 5" style="stroke-width:3.24"/>
<path d="M240 432h6M240 436h6M240 447h6M240 451h6" style="stroke-width:1.78"/>
<path d="M276 430v20M279.5 428v24" style="stroke-width:1.46"/>
<!-- p3_botleft -->
<path d="M156.3 565.2L244.1 565.2"/>
<path d="M156.3 565.2L156.3 605"/>
<path d="M244.1 549.6L244.1 620"/>
<path d="M226.6 565.2L226.6 734.5"/>
<text transform="translate(190.6 570) rotate(180) scale(0.82 1)" font-size="9" text-anchor="middle" dy="0.35em">553.5</text>
<text transform="translate(235 570) rotate(180) scale(0.82 1)" font-size="9" text-anchor="middle" dy="0.35em">142.5</text>
<path d="M139 580.6L331.6 580.6"/>
<path d="M331.6 580.6L331.6 713.8"/>
<text transform="translate(327 645.5) rotate(-90) scale(0.82 1)" font-size="9" text-anchor="middle" dy="0.35em">1060.2</text>
<path d="M248 602.5L319.6 602.5"/>
<path d="M319.6 602.5L319.6 713.8"/>
<text transform="translate(314.8 657.5) rotate(-90) scale(0.82 1)" font-size="9" text-anchor="middle" dy="0.35em">883.8</text>
<path d="M228 626.4L307.6 626.4"/>
<path d="M307.6 626.4L307.6 713.8"/>
<text transform="translate(303.3 669.5) rotate(-90) scale(0.82 1)" font-size="9" text-anchor="middle" dy="0.35em">691</text>
<path d="M94.5 713.8L331.6 713.8"/>
<path d="M96.8 605.3L96.8 713.8"/>
<path d="M94.9 605.3L156 605.3"/>
<text transform="translate(90 659.7) rotate(-90) scale(0.82 1)" font-size="9" text-anchor="middle" dy="0.35em">861.2</text>
<path d="M109.2 691.4L109.2 713.8"/>
<path d="M109.2 691.4L141.3 691.4"/>
<text transform="translate(104.5 702) rotate(-90) scale(0.82 1)" font-size="9" text-anchor="middle" dy="0.35em">177</text>
<path d="M141.3 691.4L141.3 734.2"/>
<path d="M141.3 734.2L226.6 734.2"/>
<text transform="translate(183 740.2) rotate(180) scale(0.82 1)" font-size="9" text-anchor="middle" dy="0.35em">675</text>
<path d="M244.1 549.6A47 47 0 0 1 284.2 570.1L268.7 580.3" style="stroke-width:1.08"/>
<text transform="translate(263.7 560) rotate(210) scale(0.85 1)" font-size="9" text-anchor="middle" dy="0.35em">55&#176;</text>
<text transform="translate(256 573.3) rotate(237) scale(0.82 1)" font-size="9" text-anchor="middle" dy="0.35em">&#248;64</text>
<path d="M257.3 566L270.1 585.2" style="stroke-width:0.96"/>
<path d="M143.8 607.6L176.3 577.2L185.3 586.3L180 591.6L174.5 597" style="stroke-width:1.20"/>
<text transform="translate(178 585.1) rotate(135) scale(0.85 1)" font-size="9" text-anchor="middle" dy="0.35em">10&#176;</text>
<path d="M138.7 604.6V583Q138.7 580.8 141 580.8H150Q152.4 580.8 152.4 583V596" style="stroke-width:1.62"/>
<path d="M138.7 584L152.4 584" style="stroke-width:1.30"/>
<path d="M133.4 590.2H138.7V603H133.4Z" style="stroke-width:1.46"/>
<path d="M136 592L136 601" style="stroke-width:2.92;stroke:#777"/>
<circle cx="126.5" cy="604" r="1.6" style="stroke-width:1.46"/>
<path d="M128 604H133.4M129.5 602v4" style="stroke-width:1.46"/>
<path d="M132 606.5H154M134 609H152L150 612H137Z" style="stroke-width:1.46"/>
<circle cx="155.4" cy="604.6" r="4.3" style="stroke-width:1.78"/>
<path d="M153.9 597H166V600H153.9Z" style="stroke-width:0.81;fill:#151515"/>
<circle cx="170.6" cy="597" r="2.6" style="stroke-width:1.78;fill:#555"/>
<path d="M171 594.6L192 599M170 599.6L190 602.5" style="stroke-width:1.62"/>
<path d="M176 592L186 587M178 596L190 589" style="stroke-width:1.30"/>
<path d="M192.6 596.5H242V600.8H192.6Z" style="stroke-width:0.81;fill:#151515"/>
<path d="M214 585.6H238L240 588V590.2H212.5V588Z" style="stroke-width:0.81;fill:#151515"/>
<rect x="213.5" y="590.2" width="25" height="5.5" style="stroke-width:1.46"/>
<path d="M242.3 587.5L247 586L252.3 589.5V594.7H242.3Z" style="stroke-width:0.81;fill:#151515"/>
<path d="M252.8 587.4L266 580.1L270.1 585.6L254.6 595.2" style="stroke-width:1.62"/>
<path d="M253.7 591.5L268.3 582.6" style="stroke-width:1.30"/>
<path d="M246 601L252.8 587.4M249 603L254.6 595.2" style="stroke-width:1.62"/>
<path d="M249 597.8H274Q277 597.8 277 600.5Q277 603 274 603H249Q246.5 603 246.5 600.4Q246.5 597.8 249 597.8Z" style="stroke-width:2.27"/>
<path d="M252 605.3H270M250 607.6H272" style="stroke-width:1.62"/>
<path d="M227.7 607.7L239 601.6M224.5 603L236 597.5M236 597.5L239 601.6" style="stroke-width:1.78"/>
<ellipse cx="220" cy="610.7" rx="7.6" ry="3.4" style="stroke-width:2.59"/>
<ellipse cx="220" cy="610.7" rx="5" ry="1.6" style="stroke-width:1.30"/>
<path d="M162.2 613.7L243 613.7" style="stroke-width:1.62"/>
<path d="M162.2 616.7L243 616.7" style="stroke-width:1.78"/>
<path d="M163 600.8V613.7M166 603H192V611H166ZM176 603V611M186 603V611" style="stroke-width:1.46"/>
<path d="M195 603H212V611H195ZM203 603V611" style="stroke-width:1.46"/>
<path d="M160 608L166 603M157 609.5L163 613.7" style="stroke-width:1.46"/>
<path d="M152.5 601.5Q133 617 127.6 650V690" style="stroke-width:1.78"/>
<path d="M129.5 651V686" style="stroke-width:1.30"/>
<path d="M163 613Q144 626 138 655V672" style="stroke-width:1.78"/>
<path d="M137.9 672V640H152.4V674.2H137.9M137.9 655.2H152.4M140 642.5V653M140 658V671" style="stroke-width:1.46"/>
<path d="M137.9 640Q139 628 146 621H152.4V640" style="stroke-width:1.46"/>
<path d="M153.9 620.6V678M157.7 620.6V676M166.8 620.6V675M168.3 620.6V676M157.7 674.5H166.8" style="stroke-width:1.46"/>
<path d="M155.5 628v6M155.5 648v6M155.5 664v6" style="stroke-width:1.62"/>
<rect x="126.5" y="671" width="9.2" height="7" style="stroke-width:1.62"/>
<path d="M127 674.5L135.5 674.5" style="stroke-width:1.13"/>
<path d="M182 618L182 676" style="stroke-width:3.56"/>
<path d="M185 620L185 675" style="stroke-width:1.30"/>
<path d="M179 620L179 675" style="stroke-width:1.13"/>
<circle cx="176" cy="622" r="2.1" style="stroke-width:1.46"/>
<circle cx="187.3" cy="622" r="2.1" style="stroke-width:1.46"/>
<path d="M178.5 622L185 622" style="stroke-width:1.30"/>
<circle cx="176" cy="632" r="2.1" style="stroke-width:1.46"/>
<circle cx="187.3" cy="632" r="2.1" style="stroke-width:1.46"/>
<path d="M178.5 632L185 632" style="stroke-width:1.30"/>
<circle cx="176" cy="641.5" r="2.1" style="stroke-width:1.46"/>
<circle cx="187.3" cy="641.5" r="2.1" style="stroke-width:1.46"/>
<path d="M178.5 641.5L185 641.5" style="stroke-width:1.30"/>
<circle cx="176" cy="651.7" r="2.1" style="stroke-width:1.46"/>
<circle cx="187.3" cy="651.7" r="2.1" style="stroke-width:1.46"/>
<path d="M178.5 651.7L185 651.7" style="stroke-width:1.30"/>
<circle cx="176" cy="662" r="2.1" style="stroke-width:1.46"/>
<circle cx="187.3" cy="662" r="2.1" style="stroke-width:1.46"/>
<path d="M178.5 662L185 662" style="stroke-width:1.30"/>
<circle cx="176" cy="672" r="2.1" style="stroke-width:1.46"/>
<circle cx="187.3" cy="672" r="2.1" style="stroke-width:1.46"/>
<path d="M178.5 672L185 672" style="stroke-width:1.30"/>
<rect x="174.4" y="624.4" width="3" height="5.2" style="stroke-width:1.30" rx="1"/>
<rect x="186.2" y="624.4" width="3" height="5.2" style="stroke-width:1.30" rx="1"/>
<rect x="174.4" y="634.2" width="3" height="5.2" style="stroke-width:1.30" rx="1"/>
<rect x="186.2" y="634.2" width="3" height="5.2" style="stroke-width:1.30" rx="1"/>
<rect x="174.4" y="644" width="3" height="5.2" style="stroke-width:1.30" rx="1"/>
<rect x="186.2" y="644" width="3" height="5.2" style="stroke-width:1.30" rx="1"/>
<rect x="174.4" y="654.4" width="3" height="5.2" style="stroke-width:1.30" rx="1"/>
<rect x="186.2" y="654.4" width="3" height="5.2" style="stroke-width:1.30" rx="1"/>
<rect x="174.4" y="664.4" width="3" height="5.2" style="stroke-width:1.30" rx="1"/>
<rect x="186.2" y="664.4" width="3" height="5.2" style="stroke-width:1.30" rx="1"/>
<path d="M191 667V626Q191 618.2 196.7 618.2Q202.4 618.2 202.4 626V667" style="stroke-width:2.43"/>
<path d="M193.3 666V627Q193.3 621 196.7 621" style="stroke-width:1.30"/>
<rect x="193.5" y="630" width="3.6" height="3.6" style="stroke-width:1.46;fill:#444"/>
<path d="M189.5 635l3.5 3" style="stroke-width:1.62"/>
<rect x="193.5" y="643" width="3.6" height="3.6" style="stroke-width:1.46;fill:#444"/>
<path d="M189.5 648l3.5 3" style="stroke-width:1.62"/>
<rect x="193.5" y="656" width="3.6" height="3.6" style="stroke-width:1.46;fill:#444"/>
<path d="M189.5 661l3.5 3" style="stroke-width:1.62"/>
<path d="M204 618L204 680" style="stroke-width:3.24"/>
<path d="M206.5 620L206.5 640" style="stroke-width:1.30"/>
<path d="M200 634L204 638M200 650L204 654" style="stroke-width:1.94"/>
<path d="M206.2 679V645Q206.2 638.8 211.5 638.8Q216.9 638.8 216.9 645V679" style="stroke-width:2.43"/>
<path d="M208.5 678V646Q208.5 641.5 211.5 641.5" style="stroke-width:1.30"/>
<path d="M216.9 679V645Q217 639.5 221.5 639.5Q226 639.5 226 645" style="stroke-width:2.11"/>
<path d="M206 644Q208 636 216 636.5H226" style="stroke-width:1.62"/>
<path d="M205 628H226M205 633H226" style="stroke-width:1.30"/>
<circle cx="207.3" cy="646" r="1" style="stroke-width:1.46;fill:#151515"/>
<circle cx="207.3" cy="655" r="1" style="stroke-width:1.46;fill:#151515"/>
<circle cx="207.3" cy="664" r="1" style="stroke-width:1.46;fill:#151515"/>
<circle cx="207.3" cy="672" r="1" style="stroke-width:1.46;fill:#151515"/>
<circle cx="222.5" cy="663" r="1.6" style="stroke-width:1.46"/>
<rect x="220.5" y="656" width="3.2" height="4" style="stroke-width:1.30"/>
<rect x="230.7" y="617.6" width="9.9" height="19.7" style="stroke-width:1.46"/>
<circle cx="234.8" cy="620.8" r="1.4" style="stroke-width:1.30"/>
<circle cx="234.8" cy="632.8" r="1.4" style="stroke-width:1.30"/>
<path d="M221.4 619H230.7M221.4 626.6H230.7M221.4 635.7H244" style="stroke-width:1.30"/>
<path d="M205 617V640" style="stroke-width:1.30"/>
<path d="M243 613.7L243 640" style="stroke-width:1.62"/>
<path d="M243 610.7H284.7Q290 611.5 290 617V664Q290 670 284 670.4H252" style="stroke-width:1.62"/>
<path d="M272.7 610.7V607.6" style="stroke-width:1.30"/>
<path d="M244 619L290 619" style="stroke-width:1.30"/>
<path d="M244 626.4L290 626.4" style="stroke-width:1.30"/>
<path d="M244 633.5L290 633.5" style="stroke-width:1.30"/>
<path d="M244 641.9L290 641.9" style="stroke-width:1.30"/>
<path d="M244 646.4L290 646.4" style="stroke-width:1.30"/>
<path d="M244 653.7L290 653.7" style="stroke-width:1.30"/>
<rect x="290.3" y="620.6" width="4.2" height="4.6" style="stroke-width:1.46"/>
<path d="M246.7 645.3H288M246.7 648.4H288" style="stroke-width:1.13"/>
<path d="M227.7 680V646Q227.7 642.3 232 642.3H241Q246.7 642.3 246.7 648V650" style="stroke-width:1.46"/>
<path d="M229.5 680V648Q229.5 644.5 233 644.5H240Q244.5 644.5 244.5 649" style="stroke-width:1.30"/>
<path d="M227.7 651Q231.5 647.6 235.3 651V679.5M233.3 653V679" style="stroke-width:1.46"/>
<path d="M240.6 649H249.7V674.2H240.6Z" style="stroke-width:1.78"/>
<path d="M240.6 652L249.7 652" style="stroke-width:1.46"/>
<path d="M240.6 659L249.7 659" style="stroke-width:1.30"/>
<circle cx="245.2" cy="667.4" r="3" style="stroke-width:1.78"/>
<circle cx="245.2" cy="667.4" r="1.4" style="stroke-width:1.30"/>
<path d="M239 652v20" style="stroke-width:1.30"/>
<path d="M206 686Q232 684 256 673Q272 666.5 292.3 666.6" style="stroke-width:1.62"/>
<path d="M208 689.5Q234 687 258 676Q274 670 292.3 670.4V666.6" style="stroke-width:1.62"/>
<path d="M252 670.4Q268 676 286 672.5L290 668" style="stroke-width:1.30"/>
<path d="M153 676.5L226 676.5" style="stroke-width:1.94"/>
<path d="M137 679.8L226 679.8" style="stroke-width:2.59"/>
<path d="M168 676l5 -4l4 3l5 -4l4 3" style="stroke-width:1.78"/>
<path d="M188 672l6 -3l5 3l6 -2" style="stroke-width:2.11"/>
<rect x="196" y="669" width="9" height="4.5" style="stroke-width:1.13;fill:#555"/>
<circle cx="140.7" cy="691.7" r="8.8" style="stroke-width:2.43"/>
<circle cx="140.7" cy="691.7" r="6.4" style="stroke-width:1.62"/>
<circle cx="140.7" cy="691.7" r="3.8" style="stroke-width:1.62"/>
<circle cx="140.7" cy="691.7" r="1.5" style="stroke-width:1.46;fill:#151515"/>
<path d="M129 687Q128 702 138 706" style="stroke-width:1.62"/>
<path d="M133.3 690.5h-2.6v3.5h2.6" style="stroke-width:1.30"/>
<circle cx="140.2" cy="709.1" r="4" style="stroke-width:1.78"/>
<path d="M127.6 690Q128.5 705 136.5 708.3" style="stroke-width:1.62"/>
<path d="M136 679.8Q146 679 150 684.5" style="stroke-width:1.78"/>
<path d="M150 683Q160 683 160 690V700" style="stroke-width:1.62"/>
<path d="M144 706.5L152 704V712M152 699H170" style="stroke-width:1.46"/>
<path d="M160 681.8H196Q200.5 682 200.5 687V690Q200.5 706 188 706H172" style="stroke-width:1.78"/>
<path d="M163 687.1H190Q195 687.5 195 691Q195 702.3 186 702.3H172Q169 702.3 169 704.2Q169 706 172 706" style="stroke-width:1.78"/>
<path d="M160 681.8Q156 684.5 160 687.1H163" style="stroke-width:1.62"/>
<circle cx="172.9" cy="690.2" r="5.8" style="stroke-width:1.78"/>
<path d="M166 696H180V698.5H166Z" style="stroke-width:1.46"/>
<path d="M172 706v5h3v-5M190 706v4h4v-4" style="stroke-width:1.46"/>
<path d="M153 699V712M156 699V712" style="stroke-width:1.30"/>
<path d="M204 685.6V706.9H226M200.5 685.6H226" style="stroke-width:1.62"/>
<rect x="206.3" y="692.4" width="12.9" height="12.9" style="stroke-width:1.46"/>
<circle cx="206.3" cy="692.4" r="0.9" style="stroke-width:0.97;fill:#151515"/>
<circle cx="219.2" cy="692.4" r="0.9" style="stroke-width:0.97;fill:#151515"/>
<circle cx="206.3" cy="705.3" r="0.9" style="stroke-width:0.97;fill:#151515"/>
<circle cx="219.2" cy="705.3" r="0.9" style="stroke-width:0.97;fill:#151515"/>
<path d="M150 709.8L262 709.8" style="stroke-width:1.46"/>
<path d="M227.7 687.1H258Q261 688 261 692L262.5 710.7H227" style="stroke-width:1.62"/>
<path d="M258.2 688.6H261.5V697H258.2" style="stroke-width:1.30"/>
<path d="M240 684.5h14v2.6" style="stroke-width:1.30"/>
<path d="M189.5 624q-2.5 5 0 10q2.5 5 0 10q-2.5 5 0 10q2.5 5 0 10" style="stroke-width:2.59"/>
<path d="M199.5 628l3 4l-3 5l3 5l-3 5l3 5l-3 5l3 5" style="stroke-width:2.11"/>
<path d="M211.5 644v30M214 646v28" style="stroke-width:1.62"/>
<rect x="209.5" y="648" width="4" height="3.5" style="stroke-width:0.81;fill:#151515"/>
<rect x="209.5" y="657" width="4" height="3.5" style="stroke-width:0.81;fill:#151515"/>
<rect x="209.5" y="666" width="4" height="3.5" style="stroke-width:0.81;fill:#151515"/>
<path d="M218.5 646V676M222.5 642V676" style="stroke-width:1.78"/>
<path d="M186 676.5H226V679.8H186Z" style="stroke-width:0.65;fill:#151515"/>
<path d="M157 676.5h9v3h-9zM170 677h10v2.6h-10z" style="stroke-width:0.65;fill:#333"/>
<path d="M162 613.7h30v3h-30z" style="stroke-width:0.65;fill:#444"/>
<path d="M196 613.7h30v3h-30z" style="stroke-width:0.65;fill:#333"/>
<path d="M176 706.9H204M178 709.8V713.8M200 709.8V713.8" style="stroke-width:1.62"/>
<path d="M160 700h8v6h-8z" style="stroke-width:1.46"/>
<path d="M183 689h10v8h-10z" style="stroke-width:1.46"/>
<path d="M196 640.5h6v3h-6zM196 653.5h6v3h-6z" style="stroke-width:0.65;fill:#151515"/>
<!-- p4_topright -->
<path d="M381.5 162.8L381.5 245.8" style="stroke-width:1.08"/>
<path d="M327.7 200.3L427.2 200.3" style="stroke-width:1.08"/>
<path d="M359 164.2L426.3 164.2" style="stroke-width:0.96"/>
<path d="M359 236.4L426.3 236.4" style="stroke-width:0.96"/>
<path d="M426.3 164.2L426.3 236.4" style="stroke-width:0.96"/>
<text transform="translate(423 182.3) rotate(-90) scale(0.799 1)" font-size="6" text-anchor="middle" dy="0.35em" font-weight="bold">285.8</text>
<text transform="translate(423 218.6) rotate(-90) scale(0.799 1)" font-size="6" text-anchor="middle" dy="0.35em" font-weight="bold">285.8</text>
<circle cx="381.5" cy="200.3" r="32.2" style="stroke-width:3.60;stroke:#8c8c8c"/>
<circle cx="381.5" cy="200.3" r="34" style="stroke-width:1.20"/>
<circle cx="381.5" cy="200.3" r="30.4" style="stroke-width:1.20"/>
<circle cx="381.5" cy="200.3" r="21.6" style="stroke-width:2.88;stroke:#939393"/>
<circle cx="381.5" cy="200.3" r="23.1" style="stroke-width:1.08"/>
<circle cx="381.5" cy="200.3" r="20" style="stroke-width:1.08"/>
<circle cx="381.5" cy="200.3" r="7.6" style="stroke-width:1.92"/>
<circle cx="381.5" cy="200.3" r="3.6" style="stroke-width:1.20"/>
<circle cx="386.8" cy="202.5" r="0.9" style="stroke-width:0.84"/>
<circle cx="383.7" cy="205.6" r="0.9" style="stroke-width:0.84"/>
<circle cx="379.3" cy="205.6" r="0.9" style="stroke-width:0.84"/>
<circle cx="376.2" cy="202.5" r="0.9" style="stroke-width:0.84"/>
<circle cx="376.2" cy="198.1" r="0.9" style="stroke-width:0.84"/>
<circle cx="379.3" cy="195" r="0.9" style="stroke-width:0.84"/>
<circle cx="383.7" cy="195" r="0.9" style="stroke-width:0.84"/>
<circle cx="386.8" cy="198.1" r="0.9" style="stroke-width:0.84"/>
<path d="M377.5 193L370 183.6" style="stroke-width:0.96"/>
<path d="M385.2 192.7L395.5 170.8" style="stroke-width:0.96"/>
<path d="M377 208L367.6 230.4" style="stroke-width:0.96"/>
<path d="M385.5 208L395.5 224.3" style="stroke-width:0.96"/>
<text transform="translate(371.5 219) rotate(-64) scale(0.75 1)" font-size="5.5" text-anchor="middle" dy="0.35em">32.1</text>
<text transform="translate(389.5 215) rotate(58) scale(0.75 1)" font-size="5.5" text-anchor="middle" dy="0.35em">21.5</text>
<path d="M365 224l3.5 1.8l-1.5 3.4l-3.5 -1.8zM391 222l3.5 -1.8l1.8 3.4l-3.5 1.8z" style="stroke-width:0.84"/>
<path d="M374.5 167.5Q381.5 170.5 388.5 167.5M373.5 233Q381.5 230 389.5 233" style="stroke-width:1.08"/>
<path d="M359 164.2L359 174" style="stroke-width:0.96"/>
<path d="M359 227L359 236.4" style="stroke-width:0.96"/>
<path d="M359 170.8H337.2V191.5" style="stroke-width:1.08"/>
<path d="M359 235.3H338.4V213.4" style="stroke-width:1.08"/>
<circle cx="339.8" cy="172.2" r="1.3" style="stroke-width:1.08"/>
<circle cx="355.4" cy="172.2" r="1.3" style="stroke-width:1.08"/>
<circle cx="339.8" cy="187.2" r="1.3" style="stroke-width:1.08"/>
<circle cx="342.6" cy="232.2" r="1.3" style="stroke-width:1.08"/>
<circle cx="356" cy="232.2" r="1.3" style="stroke-width:1.08"/>
<path d="M341.5 216H352" style="stroke-width:0.96"/>
<path d="M337.2 191.5L332 193.5L330.3 197V204L332.5 207.5L337.5 209.7V213.4" style="stroke-width:1.32"/>
<path d="M337.2 191.5H345V196H348M338.4 209.7H345V205H348" style="stroke-width:1.20"/>
<path d="M331.5 195l2.5 2M331.5 206l2.5 -2" style="stroke-width:0.96"/>
<rect x="342.5" y="196.5" width="5" height="8" style="stroke-width:0.72;fill:#444"/>
<circle cx="344.7" cy="200.3" r="1.6" style="stroke-width:0.96;fill:#fff"/>
<path d="M340 193.5v4M340 203.5v4" style="stroke-width:0.96"/>
<path d="M375.2 235L383.8 245.8L391.6 235" style="stroke-width:1.20"/>
<path d="M376 236.4Q381.5 240 391 236.4" style="stroke-width:0.96"/>
<circle cx="383.6" cy="241.5" r="0.8" style="stroke-width:0.72;fill:#151515"/>
<path d="M403.3 157.3L381.6 179.2" style="stroke-width:0.96"/>
<path d="M403.3 157.3L421.3 157.3" style="stroke-width:0.96"/>
<path d="M412.6 128.8L412.6 157.3" style="stroke-width:0.96;stroke:#777"/>
<path d="M421.3 134.9L421.3 157.3" style="stroke-width:0.96"/>
<text transform="translate(409 142.8) rotate(-90) scale(0.862 1)" font-size="5.6" text-anchor="middle" dy="0.35em" font-weight="bold">6&#8722;M10x1.5</text>
<text transform="translate(417.4 145.1) rotate(-90) scale(0.833 1)" font-size="5.6" text-anchor="middle" dy="0.35em" font-weight="bold">Depth 20</text>
<path d="M343.2 247.6L377 232" style="stroke-width:0.96"/>
<text transform="translate(333.3 262) rotate(-90) scale(0.787 1)" font-size="6" text-anchor="middle" dy="0.35em" font-weight="bold">12&#8722;M12x1.75</text>
<text transform="translate(342.3 258) rotate(-90) scale(0.74 1)" font-size="6" text-anchor="middle" dy="0.35em" font-weight="bold">Through</text>
<path d="M336.4 247.6L336.4 278" style="stroke-width:0.96"/>
<path d="M336.4 247.6L345.5 247.6" style="stroke-width:0.96"/>
<path d="M345.5 247.6L345.5 268" style="stroke-width:0.96"/>
<text transform="translate(435.8 248.8) rotate(-90) scale(0.747 1)" font-size="12.3" text-anchor="middle" dy="0.35em" style="stroke:none">Power Train</text>
<path d="M443 219.6L443 277.6" style="stroke-width:1.68"/>
<path d="M349.6 261.5L413.9 261.5"/>
<path d="M349.6 261.5L349.6 293.5"/>
<path d="M413.9 261.5L413.9 293.5"/>
<text transform="translate(381.6 266) rotate(180) scale(0.82 1)" font-size="9" text-anchor="middle" dy="0.35em">511.18</text>
<path d="M359.7 271.4L403.8 271.4"/>
<path d="M359.7 271.4L359.7 297"/>
<path d="M403.8 271.4L403.8 297"/>
<text transform="translate(381.6 276) rotate(180) scale(0.82 1)" font-size="9" text-anchor="middle" dy="0.35em">352.4</text>
<path d="M361.5 281.6L401.3 281.6"/>
<path d="M361.5 281.6L361.5 297"/>
<path d="M401.3 281.6L401.3 297"/>
<text transform="translate(381.6 286) rotate(180) scale(0.82 1)" font-size="9" text-anchor="middle" dy="0.35em">310</text>
<path d="M381.9 291.5L381.9 331" style="stroke-width:1.08"/>
<rect x="346.5" y="293.2" width="69.7" height="2" style="stroke-width:0.72;fill:#151515"/>
<rect x="346.3" y="292.2" width="2.2" height="4" style="stroke-width:0.60;fill:#151515"/>
<rect x="414.2" y="292.2" width="2.2" height="4" style="stroke-width:0.60;fill:#151515"/>
<path d="M349.6 295.2V316M413.9 295.2V316M351.4 295.2V309.6M412.1 295.2V309.6" style="stroke-width:1.08"/>
<path d="M358.8 297H361.5V307.5L364.5 309.6H399.5L401.3 307.5V297H404V309.6H414.4V312.4H349.6V309.6H358.8Z" style="stroke-width:0.60;fill:#151515"/>
<path d="M362.5 310.5L374.3 318M401 310.5L389.8 318" style="stroke-width:3.60"/>
<path d="M355 313.6H366M397.5 313.6H409" style="stroke-width:2.40"/>
<path d="M361.5 298.7H401.3M361.5 300.2H401.3" style="stroke-width:0.84"/>
<path d="M352 314.5H371M392 314.5H412" style="stroke-width:1.44"/>
<rect x="353" y="312.4" width="3" height="3.6" style="stroke-width:0.72;fill:#151515"/>
<rect x="408" y="312.4" width="3" height="3.6" style="stroke-width:0.72;fill:#151515"/>
<path d="M373.4 316H390.7V322.4H373.4Z" style="stroke-width:1.68"/>
<path d="M377 316V322.4M380 316V322.4M384 316V322.4M387 316V322.4" style="stroke-width:1.44"/>
<rect x="372" y="326" width="18.3" height="1.9" style="stroke-width:0.72;fill:#151515"/>
<path d="M374.5 322.4V326M389.5 322.4V326" style="stroke-width:1.08"/>
<path d="M373.4 318.8H333L330.5 324.2H373.4" style="stroke-width:1.08"/>
<path d="M390.7 317.8H425.4M390.7 322.4H434" style="stroke-width:1.08"/>
<rect x="341.4" y="300.5" width="3.3" height="16.5" style="stroke-width:0.72;fill:#999"/>
<rect x="337.4" y="308.7" width="4" height="3.7" style="stroke-width:0.96" rx="1"/>
<path d="M344.7 300.5H349.6" style="stroke-width:0.96"/>
<path d="M416 293.6L433.6 293.6"/>
<path d="M425 297.8L425 318.8"/>
<path d="M433.6 293.6L433.6 324.2"/>
<text transform="translate(420.8 307.8) rotate(-90) scale(0.82 1)" font-size="9" text-anchor="middle" dy="0.35em">189.6</text>
<text transform="translate(429.6 309.6) rotate(-90) scale(0.82 1)" font-size="9" text-anchor="middle" dy="0.35em">248</text>
<path d="M403.1 319.7L403.1 340.7"/>
<text transform="translate(398.4 334) rotate(-90) scale(0.82 1)" font-size="9" text-anchor="middle" dy="0.35em">19.2</text>
<path d="M473 196.4L473 292" style="stroke-width:1.08"/>
<path d="M461.7 208.5L552.1 208.5"/>
<path d="M461.7 284.2L552.1 284.2"/>
<path d="M467.4 246.1L552.1 246.1"/>
<path d="M505.6 202.8L505.6 318.3"/>
<path d="M540.3 208.5L540.3 284.2"/>
<path d="M551.7 208.5L551.7 284.2"/>
<text transform="translate(536.2 227.2) rotate(-90) scale(0.82 1)" font-size="9" text-anchor="middle" dy="0.35em">298</text>
<text transform="translate(536.2 263.6) rotate(-90) scale(0.82 1)" font-size="9" text-anchor="middle" dy="0.35em">298</text>
<text transform="translate(547.2 246.1) rotate(-90) scale(0.82 1)" font-size="9" text-anchor="middle" dy="0.35em">596</text>
<circle cx="472.8" cy="208.3" r="4.9" style="stroke-width:1.08"/>
<circle cx="472.8" cy="208.3" r="3" style="stroke-width:1.08"/>
<path d="M463.8 208.3A9 9 0 0 1 481.8 208.3" style="stroke-width:2.64;stroke:#666"/>
<path d="M462.8 208.3A10 10 0 0 1 482.8 208.3M464.8 208.3A8 8 0 0 1 480.8 208.3" style="stroke-width:0.96"/>
<path d="M462.5 208.3V217.5Q472.8 220 483 217.5V208.3" style="stroke-width:1.08"/>
<path d="M464.8 208.3A8 8 0 0 0 480.8 208.3" style="stroke-width:0.96"/>
<circle cx="472.8" cy="284.2" r="4.9" style="stroke-width:1.08"/>
<circle cx="472.8" cy="284.2" r="3" style="stroke-width:1.08"/>
<path d="M463.8 284.2A9 9 0 0 0 481.8 284.2" style="stroke-width:2.64;stroke:#666"/>
<path d="M462.8 284.2A10 10 0 0 0 482.8 284.2M464.8 284.2A8 8 0 0 0 480.8 284.2" style="stroke-width:0.96"/>
<path d="M462.5 284.2V275Q472.8 272.5 483 275V284.2" style="stroke-width:1.08"/>
<path d="M464.8 284.2A8 8 0 0 1 480.8 284.2" style="stroke-width:0.96"/>
<circle cx="505.6" cy="246.1" r="2.4" style="stroke-width:1.20;stroke:#4a1414"/>
<circle cx="505.6" cy="246.1" r="0.9" style="stroke-width:0.84;fill:#b02020;stroke:#b02020"/>
<text transform="translate(484.6 245) rotate(-90) scale(0.742 1)" font-size="6" text-anchor="middle" dy="0.35em" font-weight="bold">Crank shaft</text>
<text transform="translate(491.5 251.2) rotate(-90) scale(0.694 1)" font-size="6" text-anchor="middle" dy="0.35em" font-weight="bold">center</text>
<path d="M487.4 231.5L487.4 258.4" style="stroke-width:0.96"/>
<path d="M487.4 258.4L494.7 258.4" style="stroke-width:0.96"/>
<path d="M494.7 244L494.7 258.4" style="stroke-width:0.96"/>
<path d="M494.7 258.4L504 248" style="stroke-width:0.96"/>
<path d="M490 208.3L492.5 205.5L494.5 208.3M490 208.3L503.5 218.6Q510 223 516.3 222.8Q523.6 222.5 523.6 219V216" style="stroke-width:1.20"/>
<circle cx="492.3" cy="207" r="0.9" style="stroke-width:0.84"/>
<path d="M496.2 205.8L523 205.8" style="stroke-width:1.20"/>
<path d="M496.2 201.6h2.4v4.2" style="stroke-width:1.08"/>
<rect x="499.8" y="207" width="1.9" height="9.8" style="stroke-width:1.08"/>
<rect x="511.4" y="201.6" width="2.4" height="18.2" style="stroke-width:1.08"/>
<rect x="519.3" y="199.1" width="4.3" height="17" style="stroke-width:1.08"/>
<path d="M521.5 200L521.5 215.5" style="stroke-width:1.92;stroke:#555"/>
<path d="M513.8 203H519.3" style="stroke-width:1.08"/>
<path d="M490.4 284.6Q489.5 286.8 491.5 287L493 285.5Q496 279 499.1 274.5Q503 270.8 510.6 270.6H520.7Q523.6 271 523.6 273.8" style="stroke-width:1.20"/>
<path d="M492.5 284L497.6 280.7H519.3" style="stroke-width:1.08"/>
<path d="M520.2 275.2L520.2 308.4" style="stroke-width:2.28"/>
<path d="M522.9 275L522.9 318.6" style="stroke-width:0.96"/>
<path d="M520.2 278.8L522.9 278.8" style="stroke-width:0.96"/>
<path d="M520.2 282.6L522.9 282.6" style="stroke-width:0.96"/>
<path d="M520.2 286.4L522.9 286.4" style="stroke-width:0.96"/>
<path d="M520.2 290.2L522.9 290.2" style="stroke-width:0.96"/>
<path d="M520.2 294L522.9 294" style="stroke-width:0.96"/>
<path d="M506.6 297.2L527.8 297.2"/>
<text transform="translate(511.2 302.6) rotate(180) scale(0.82 1)" font-size="9" text-anchor="middle" dy="0.35em">25</text>
<path d="M516.4 308.5L535.7 308.5"/>
<text transform="translate(530.7 313.5) rotate(180) scale(0.82 1)" font-size="9" text-anchor="middle" dy="0.35em">29</text>
<path d="M519.3 297.2L519.3 308.5"/>
<path d="M505.6 318.3L523.3 318.3"/>
<text transform="translate(514.8 324.2) rotate(180) scale(0.82 1)" font-size="9" text-anchor="middle" dy="0.35em">142.5</text>
<path d="M472.5 284.4L457.3 304.7" style="stroke-width:0.96"/>
<path d="M472.5 284.4L480.1 307.8" style="stroke-width:0.96"/>
<path d="M472.5 284.4L492.4 299.6" style="stroke-width:0.96"/>
<text transform="translate(457.2 295.2) rotate(-52) scale(0.8 1)" font-size="9" text-anchor="middle" dy="0.35em">&#248;130</text>
<text transform="translate(471.8 304.2) rotate(-75) scale(0.8 1)" font-size="9" text-anchor="middle" dy="0.35em">R74</text>
<text transform="translate(484.3 298.6) rotate(230) scale(0.8 1)" font-size="9" text-anchor="middle" dy="0.35em">&#248;76</text>
<text transform="translate(564.2 247.3) rotate(-90) scale(0.788 1)" font-size="12" text-anchor="middle" dy="0.35em" style="stroke:none">Mounting Bracket</text>
<path d="M572.9 205.3L572.9 286.4" style="stroke-width:1.80"/>
<!-- p5_midright -->
<circle cx="468.3" cy="444.3" r="35" style="stroke-width:1.30"/>
<circle cx="468.3" cy="444.3" r="32.6" style="stroke-width:1.30"/>
<circle cx="468.3" cy="444.3" r="26.5" style="stroke-width:1.46"/>
<circle cx="468.3" cy="444.3" r="24" style="stroke-width:2.75"/>
<circle cx="468.3" cy="444.3" r="20.4" style="stroke-width:1.8;stroke-dasharray:19.4 1.96"/>
<circle cx="468.3" cy="444.3" r="8" style="stroke-width:2.43"/>
<circle cx="468.3" cy="444.3" r="3.6" style="stroke-width:1.62"/>
<circle cx="473.7" cy="446.5" r="0.8" style="stroke-width:0.97"/>
<circle cx="470.5" cy="449.7" r="0.8" style="stroke-width:0.97"/>
<circle cx="466.1" cy="449.7" r="0.8" style="stroke-width:0.97"/>
<circle cx="462.9" cy="446.5" r="0.8" style="stroke-width:0.97"/>
<circle cx="462.9" cy="442.1" r="0.8" style="stroke-width:0.97"/>
<circle cx="466.1" cy="438.9" r="0.8" style="stroke-width:0.97"/>
<circle cx="470.5" cy="438.9" r="0.8" style="stroke-width:0.97"/>
<circle cx="473.7" cy="442.1" r="0.8" style="stroke-width:0.97"/>
<path d="M498.9 455.4L501.2 456.3" style="stroke-width:1.94"/>
<path d="M482.1 473.8L483.1 476" style="stroke-width:1.94"/>
<path d="M454.5 473.8L453.5 476" style="stroke-width:1.94"/>
<path d="M437.7 455.4L435.4 456.3" style="stroke-width:1.94"/>
<path d="M437.7 433.2L435.4 432.3" style="stroke-width:1.94"/>
<path d="M454.5 414.8L453.5 412.6" style="stroke-width:1.94"/>
<path d="M482.1 414.8L483.1 412.6" style="stroke-width:1.94"/>
<path d="M498.9 433.2L501.2 432.3" style="stroke-width:1.94"/>
<path d="M445.3 416V407.8H492.5" style="stroke-width:1.62"/>
<path d="M491.1 398.3V414M493.9 398.3V414M491.1 398.3H493.9" style="stroke-width:1.62"/>
<path d="M447.4 401.7H534.6Q535.6 401.7 535.6 403V405Q535.6 405.8 534.6 405.8H449" style="stroke-width:1.62"/>
<path d="M461 401.7L466 396.5L468 394.8H473L474 396.5H481.6V401.7" style="stroke-width:1.46"/>
<rect x="482.2" y="396.9" width="3.5" height="4.8" style="stroke-width:1.46"/>
<path d="M448 399.5l6 -2.5l5 2l4 2.7" style="stroke-width:1.94"/>
<path d="M476 408.5l10 4l4 4" style="stroke-width:1.78"/>
<path d="M470 409l-6 3" style="stroke-width:1.46"/>
<path d="M494 398.5H531Q533 398.5 533 400.5V401.7M497 398.5V401.7" style="stroke-width:1.46"/>
<path d="M493.9 406H530Q532 406 532 408V415.6H505" style="stroke-width:1.46"/>
<path d="M505 415.6V412Q505 410.5 507 410.5H520Q522.5 410.5 522.5 413V424" style="stroke-width:1.46"/>
<path d="M496 424.3H528Q532.3 424.5 532.3 429V459Q532.3 463.9 528 463.9H496" style="stroke-width:1.62"/>
<path d="M500.4 426Q497 433 497 444Q497 455 500.4 462" style="stroke-width:1.46"/>
<path d="M503 430.3H527Q528.5 430.3 528.5 431.5Q528.5 432.7 527 432.7H503Q501.5 432.7 501.5 431.5Q501.5 430.3 503 430.3Z" style="stroke-width:1.30"/>
<path d="M503 443.1H527Q528.5 443.1 528.5 444.3Q528.5 445.5 527 445.5H503Q501.5 445.5 501.5 444.3Q501.5 443.1 503 443.1Z" style="stroke-width:1.30"/>
<path d="M503 455.4H527Q528.5 455.4 528.5 456.6Q528.5 457.8 527 457.8H503Q501.5 457.8 501.5 456.6Q501.5 455.4 503 455.4Z" style="stroke-width:1.30"/>
<path d="M532.3 432l2 1v3.5l-2 1" style="stroke-width:1.62"/>
<circle cx="533.2" cy="435" r="0.9" style="stroke-width:1.13;fill:#151515"/>
<path d="M425.5 402.4L425.5 440" style="stroke-width:1.46"/>
<circle cx="427" cy="416" r="1.3" style="stroke-width:1.46"/>
<circle cx="441.2" cy="416" r="1.3" style="stroke-width:1.46"/>
<circle cx="427" cy="430.4" r="1.3" style="stroke-width:1.46"/>
<circle cx="441" cy="462" r="1.3" style="stroke-width:1.46"/>
<path d="M425.5 404H445.3" style="stroke-width:1.30"/>
<g transform="translate(417.5 389.5) rotate(58) scale(0.82 0.82)">
<path d="M-8.5 13.5V-9L-4 -13.5H8.5V13.5Z" style="stroke-width:2.11"/>
<path d="M0.5 -12V12" style="stroke-width:1.62"/>
<rect x="-7" y="-8.5" width="6.5" height="8.5" style="stroke-width:1.62" rx="1.5"/>
<rect x="-7" y="1.5" width="6.5" height="9.5" style="stroke-width:1.62" rx="1.5"/>
<rect x="1.8" y="-9.5" width="5.4" height="3" style="stroke-width:1.62;fill:#ccc"/>
<rect x="1.8" y="-5" width="5.4" height="3" style="stroke-width:1.62;fill:#ccc"/>
<rect x="1.8" y="-0.5" width="5.4" height="3" style="stroke-width:1.62;fill:#ccc"/>
<rect x="1.8" y="4" width="5.4" height="3" style="stroke-width:1.62;fill:#ccc"/>
<path d="M8.5 -11H10.5V11H8.5" style="stroke-width:1.94"/>
<path d="M-8.5 -6L-11 -3V10L-8.5 13.5" style="stroke-width:1.62"/>
<ellipse cx="-12.2" cy="9.5" rx="1.5" ry="4.2" style="stroke-width:1.78"/>
</g>
<path d="M419.5 398.5L443 381.5L447 387.5L424.5 403Z" style="stroke-width:1.94;fill:#fff"/>
<path d="M438.5 381L444 379.5Q448.5 381 447.5 387L445.5 392.5L441 395" style="stroke-width:3.56"/>
<path d="M436 386l5 6" style="stroke-width:2.59"/>
<path d="M433.7 399Q440 402 447.4 401.7M431 402.5Q440 406.5 449 405.8" style="stroke-width:1.62"/>
<path d="M374.8 404.4Q380 390 394.7 383.2Q398.5 383.5 400 387.3Q392.5 394 391.3 404.4Z" style="stroke-width:1.78;fill:#fff"/>
<path d="M374.2 404.4L391.3 404.4" style="stroke-width:2.59"/>
<path d="M374.2 404.4V418.8M391.3 404.4V418.8" style="stroke-width:1.62"/>
<path d="M374.2 409Q372.5 412 374.2 415M391.3 409Q393 412 391.3 415" style="stroke-width:1.46"/>
<path d="M368 417.5L366.5 423.5Q369 428 376 426Q384 423.5 392.6 426" style="stroke-width:2.92"/>
<path d="M368 417.5Q372 421.5 380 420.5Q387 419.5 393 421" style="stroke-width:1.62"/>
<path d="M372 417l2.2 -6M393.5 417l-2.2 -6" style="stroke-width:1.30"/>
<path d="M397.2 398Q396 389 404 389H422.5V393H405.5Q401.2 393 401.6 398.5Z" style="stroke-width:1.78;fill:#fff"/>
<path d="M397.2 398Q398 402 403 402.8" style="stroke-width:1.62"/>
<path d="M424 400.5Q409 401 407 418.8H411.8Q413 406 424.5 404.5Z" style="stroke-width:1.78;fill:#fff"/>
<rect x="407.2" y="418.8" width="5" height="5.4" style="stroke-width:1.62;fill:#fff"/>
<rect x="406.2" y="424.2" width="7" height="3" style="stroke-width:1.46"/>
<path d="M393 404.5H405M393 408H404.5" style="stroke-width:1.46"/>
<path d="M395.5 410l5.5 7M399 409.5l6 7.5" style="stroke-width:1.94"/>
<path d="M411.8 404V418M414 403.5V417" style="stroke-width:1.30"/>
<path d="M376.5 427V432H395V428" style="stroke-width:1.62"/>
<path d="M372 432.5H398V436H372Z" style="stroke-width:1.94"/>
<rect x="371.5" y="436.5" width="22.5" height="10" style="stroke-width:1.62" rx="1"/>
<path d="M374 446.5V452M378 446.5V455M388 446.5V452M392 446.5V456" style="stroke-width:1.62"/>
<rect x="378.5" y="447.5" width="4.2" height="4" style="stroke-width:1.13;fill:#151515"/>
<path d="M394 436.5H410M394 441H412M394 446.5H412" style="stroke-width:1.62"/>
<path d="M396 431Q406 431 409 424M398 434.5Q410 434.5 413 426" style="stroke-width:1.94"/>
<path d="M396 450Q406 450 410 457M398 447Q411 447.5 414 456" style="stroke-width:1.94"/>
<path d="M412 430h6v5h-6zM412 452h6v5h-6z" style="stroke-width:1.46"/>
<path d="M394.3 428L394.3 460" style="stroke-width:2.59"/>
<path d="M400 437l5 3l-5 3" style="stroke-width:1.46"/>
<path d="M418 436Q424 440 424 444.3Q424 449 418 453" style="stroke-width:1.46"/>
<circle cx="420" cy="438" r="1.5" style="stroke-width:1.46"/>
<circle cx="420" cy="451.5" r="1.5" style="stroke-width:1.46"/>
<path d="M397.3 423.4L397.3 457" style="stroke-width:3.24"/>
<path d="M397 429.3H414Q419 429 420 424M397 435.2H418" style="stroke-width:1.62"/>
<path d="M397 455H414Q419 455.5 420 460M397 449H418" style="stroke-width:1.62"/>
<rect x="418" y="435.2" width="9" height="15.8" style="stroke-width:1.62"/>
<path d="M425 407.5L425 435.2" style="stroke-width:1.46"/>
<path d="M401 438.5h12M401 441.5h14M401 445h12" style="stroke-width:1.46"/>
<path d="M381 448.2V482.4M392.6 456V482.4" style="stroke-width:1.62"/>
<path d="M381.5 463L392 455.5" style="stroke-width:1.46"/>
<path d="M381 459.2H372.1V471.5H381M373.5 459.2V471.5" style="stroke-width:1.62"/>
<path d="M378.3 482.4H394V492.7H378.3Z" style="stroke-width:1.62"/>
<path d="M378.3 492.7L394 492.7" style="stroke-width:2.59"/>
<path d="M386 487l2.5 -1.5M384.5 489.5h1.5" style="stroke-width:1.46"/>
<path d="M379.5 492.7V499Q379.5 508.4 386.3 508.4Q393 508.4 393 499V492.7" style="stroke-width:1.78"/>
<rect x="373.7" y="495.4" width="3.2" height="6.8" style="stroke-width:1.46"/>
<path d="M376.9 499L379.5 499" style="stroke-width:1.30"/>
<path d="M394.7 455H406Q409.7 456 408.5 461L402 470L398 472.1H394.7Z" style="stroke-width:1.78"/>
<path d="M397 458.5Q396 463.5 397.5 468.5M405 458l-2 5" style="stroke-width:1.46"/>
<path d="M398 472l4 5l6 3" style="stroke-width:1.46"/>
<path d="M410.5 460V466Q411 472 416 478L436 502A7 7 0 0 0 446.8 493L436 480H428.6L442.5 496.6A1.5 1.5 0 0 1 440.2 498.5L420.2 474.5Q418.2 470 418 460Z" style="stroke-width:1.94;fill:#fff"/>
<path d="M413.5 462V467Q414.5 473 418.5 478L437.5 500.5" style="stroke-width:1.13"/>
<path d="M432 481L444.5 496" style="stroke-width:1.13"/>
<rect x="426.8" y="473.8" width="16.8" height="6.4" style="stroke-width:0.97;fill:#151515" rx="2.5"/>
<path d="M429.5 477L441 477" style="stroke-width:1.30;stroke:#999"/>
<g transform="translate(413.5 495.2) rotate(-53) scale(0.95 -0.95)">
<path d="M-8.5 13.5V-9L-4 -13.5H8.5V13.5Z" style="stroke-width:2.11"/>
<path d="M0.5 -12V12" style="stroke-width:1.62"/>
<rect x="-7" y="-8.5" width="6.5" height="8.5" style="stroke-width:1.62" rx="1.5"/>
<rect x="-7" y="1.5" width="6.5" height="9.5" style="stroke-width:1.62" rx="1.5"/>
<rect x="1.8" y="-9.5" width="5.4" height="3" style="stroke-width:1.62;fill:#ccc"/>
<rect x="1.8" y="-5" width="5.4" height="3" style="stroke-width:1.62;fill:#ccc"/>
<rect x="1.8" y="-0.5" width="5.4" height="3" style="stroke-width:1.62;fill:#ccc"/>
<rect x="1.8" y="4" width="5.4" height="3" style="stroke-width:1.62;fill:#ccc"/>
<path d="M8.5 -11H10.5V11H8.5" style="stroke-width:1.94"/>
<path d="M-8.5 -6L-11 -3V10L-8.5 13.5" style="stroke-width:1.62"/>
<ellipse cx="-12.2" cy="9.5" rx="1.5" ry="4.2" style="stroke-width:1.78"/>
</g>
<path d="M397.5 489Q395.5 494.5 397.5 500" style="stroke-width:1.78"/>
<path d="M455 476.5Q468 482.4 481 476.5" style="stroke-width:1.62"/>
<path d="M459 478.5L470 487.2L479 478.5" style="stroke-width:1.62"/>
<path d="M461 477Q468.3 484 476 477" style="stroke-width:1.30"/>
<circle cx="465.8" cy="492.7" r="8.6" style="stroke-width:3.24"/>
<circle cx="465.8" cy="492.7" r="5.5" style="stroke-width:1.46"/>
<rect x="462.5" y="488.5" width="6.6" height="8.4" style="stroke-width:1.30"/>
<path d="M456.5 488Q454.5 492.7 456.5 497.5" style="stroke-width:2.59"/>
<circle cx="472.8" cy="492.7" r="0.8" style="stroke-width:0.97;fill:#151515"/>
<g transform="translate(487.7 488) rotate(28)">
<rect x="-5.8" y="-4.6" width="11.6" height="9.2" style="stroke-width:1.94"/>
<rect x="-2.8" y="-2.2" width="5.6" height="4.4" style="stroke-width:1.46"/>
</g>
<path d="M476 480l5 3M474 484l5.5 3.5" style="stroke-width:1.62"/>
<path d="M446 470l9 8M443 476l7 7l6 -3" style="stroke-width:1.46"/>
<path d="M444 462V470H452" style="stroke-width:1.46"/>
<path d="M484 474l8 -4v-4" style="stroke-width:1.46"/>
<path d="M494.5 466Q497 470 505 469.5" style="stroke-width:1.30"/>
<text transform="translate(319.9 366) rotate(-90) scale(0.864 1)" font-size="8.4" text-anchor="middle" dy="0.35em">Air pipe</text>
<text transform="translate(330.8 355.3) rotate(-90) scale(0.913 1)" font-size="8.4" text-anchor="middle" dy="0.35em">Air cleaner to</text>
<text transform="translate(342 358.3) rotate(-90) scale(0.823 1)" font-size="8.4" text-anchor="middle" dy="0.35em">turbocharger</text>
<path d="M325.2 354.2L325.2 380.8" style="stroke-width:0.96"/>
<path d="M336.4 332.3L336.4 380.8" style="stroke-width:0.96"/>
<path d="M346.5 338.7L346.5 380.8" style="stroke-width:0.96;stroke:#555"/>
<path d="M325.2 380.8L346.5 380.8" style="stroke-width:0.96"/>
<path d="M346.5 380.8L379.6 390.7" style="stroke-width:0.96"/>
<path d="M379.6 390.7H384.6L382.4 397.6Z" style="stroke-width:0.72;fill:#151515"/>
<path d="M382.4 383.9L382.4 453" style="stroke-width:1.08"/>
<path d="M355.6 378.2L355.6 510.3"/>
<path d="M355.6 378.2L420.8 378.2"/>
<path d="M355.6 510.3L395 510.3"/>
<path d="M355.6 444.3L549 444.3"/>
<text transform="translate(351.4 411.5) rotate(-90) scale(0.82 1)" font-size="9" text-anchor="middle" dy="0.35em">516</text>
<text transform="translate(351.4 476.7) rotate(-90) scale(0.82 1)" font-size="9" text-anchor="middle" dy="0.35em">523</text>
<path d="M468.3 406.5L468.3 484" style="stroke-width:1.08"/>
<path d="M548.4 424.3L548.4 463.9"/>
<path d="M528 424.3L548.4 424.3"/>
<path d="M528 463.9L548.4 463.9"/>
<text transform="translate(543.7 432.5) rotate(-90) scale(0.82 1)" font-size="9" text-anchor="middle" dy="0.35em">155</text>
<text transform="translate(543.7 453.7) rotate(-90) scale(0.82 1)" font-size="9" text-anchor="middle" dy="0.35em">155</text>
<path d="M365.3 480.6L381 480.6" style="stroke-width:0.96"/>
<path d="M381 480.6L376.5 479.3V481.9Z" style="stroke-width:0.72;fill:#151515"/>
<!-- p6_botright -->
<text transform="translate(512.7 535.3) rotate(-90) scale(0.878 1)" font-size="8.4" text-anchor="middle" dy="0.35em">Air pipe</text>
<text transform="translate(524 522.9) rotate(-90) scale(0.876 1)" font-size="8.4" text-anchor="middle" dy="0.35em">turbocharger to</text>
<text transform="translate(534.5 531.7) rotate(-90) scale(0.824 1)" font-size="8.4" text-anchor="middle" dy="0.35em">intercooler</text>
<path d="M518.3 522.8L518.3 550.4" style="stroke-width:0.96;stroke:#666"/>
<path d="M528.8 497.3L528.8 550.4" style="stroke-width:0.96;stroke:#666"/>
<path d="M539 515.5L539 550.4" style="stroke-width:0.96"/>
<path d="M518.3 550.4L539 550.4" style="stroke-width:0.96"/>
<path d="M539 550.4L555.2 566" style="stroke-width:0.96"/>
<path d="M540.7 588.4L558 571.8" style="stroke-width:1.08"/>
<path d="M562.8 567.2L552.1 573.1L558 576.8Z" style="stroke-width:1.08;fill:#fff"/>
<path d="M562.8 567.2L552.1 573.1L555 575Z" style="stroke-width:0.72;fill:#151515"/>
<path d="M510.4 563.4A57 57 0 0 1 549.5 578.9" style="stroke-width:1.08"/>
<path d="M510.4 563.4L510.4 597.8"/>
<text transform="translate(528.7 571) rotate(200) scale(0.85 1)" font-size="9" text-anchor="middle" dy="0.35em">46&#176;</text>
<path d="M468.4 572.6L510.4 572.6"/>
<path d="M468.4 572.6L468.4 734.5"/>
<text transform="translate(489.8 578) rotate(180) scale(0.82 1)" font-size="9" text-anchor="middle" dy="0.35em">335.9</text>
<g transform="translate(538.8 590.3) rotate(45)">
<rect x="-6.9" y="-2.8" width="13.8" height="5.5" style="stroke-width:1.20;fill:#fff"/>
</g>
<text transform="translate(538.8 590.3) rotate(225) scale(0.8 1)" font-size="7.5" text-anchor="middle" dy="0.35em">10&#176;</text>
<path d="M510.4 597.4L550.8 597.4"/>
<path d="M550.8 597.4L550.8 714.6"/>
<path d="M505 714.6L550.8 714.6"/>
<text transform="translate(546.3 654) rotate(-90) scale(0.82 1)" font-size="9" text-anchor="middle" dy="0.35em">925</text>
<path d="M444.6 734.5L509 734.5"/>
<path d="M460.2 683L460.2 734.5"/>
<path d="M509 683L509 734.5"/>
<text transform="translate(452 739.5) rotate(180) scale(0.82 1)" font-size="9" text-anchor="middle" dy="0.35em">63.1</text>
<text transform="translate(487.8 739.5) rotate(180) scale(0.82 1)" font-size="9" text-anchor="middle" dy="0.35em">320.1</text>
<text transform="translate(396.6 731.8) rotate(-90) scale(0.713 1)" font-size="9" text-anchor="middle" dy="0.35em">Exhaust</text>
<text transform="translate(407.7 729.1) rotate(-90) scale(0.809 1)" font-size="9" text-anchor="middle" dy="0.35em">outlet</text>
<path d="M402 718.3L402 744.8" style="stroke-width:0.96"/>
<path d="M402 718.3L411.5 718.3" style="stroke-width:0.96"/>
<path d="M411.5 718.3L411.5 740.7" style="stroke-width:0.96"/>
<path d="M411.5 718.3L446.5 688.7" style="stroke-width:0.96"/>
<text transform="translate(359.6 576.8) rotate(-90) scale(0.874 1)" font-size="8.4" text-anchor="middle" dy="0.35em">Air pipe</text>
<text transform="translate(370.2 584.4) rotate(-90) scale(0.902 1)" font-size="8.4" text-anchor="middle" dy="0.35em">intercooler to</text>
<rect x="376.9" y="562.3" width="7.2" height="48.5" style="stroke-width:0.00;fill:#cfcfcf"/>
<text transform="translate(380.5 586.8) rotate(-90) scale(0.86 1)" font-size="8.4" text-anchor="middle" dy="0.35em">intake manifold</text>
<path d="M364 561.9L364 589" style="stroke-width:0.96;stroke:#666"/>
<path d="M375.3 561.9L375.3 610.5" style="stroke-width:0.96"/>
<path d="M384.7 561.9L384.7 611" style="stroke-width:0.96;stroke:#555"/>
<path d="M364 561.9L384.7 561.9" style="stroke-width:0.96"/>
<path d="M384.7 561.9L398.6 555.2" style="stroke-width:0.96"/>
<path d="M397.8 548.8L403.7 554.8L403.2 565.2L400.4 556.6Z" style="stroke-width:0.72;fill:#151515"/>
<text transform="translate(418.8 562) rotate(-18) scale(0.82 1)" font-size="9" text-anchor="middle" dy="0.35em">&#248;103</text>
<path d="M398.9 571.6L427 565.3" style="stroke-width:1.46"/>
<path d="M397.5 568L399.5 573.5M411.5 565L413.5 571" style="stroke-width:1.30"/>
<path d="M398.9 571.6Q400.5 588 404.2 597.3V660" style="stroke-width:1.62"/>
<path d="M412.7 568.7Q413.5 577 416.5 584" style="stroke-width:1.62"/>
<path d="M401 581.5L415 577.5M407.5 576.5l2 7" style="stroke-width:1.30"/>
<path d="M406.9 603V673" style="stroke-width:1.46"/>
<rect x="409.6" y="598" width="4.8" height="17" style="stroke-width:1.94" rx="2.4"/>
<path d="M414.4 601h3M414.4 611h3" style="stroke-width:1.62"/>
<path d="M404.2 660Q404.5 674 413 675" style="stroke-width:1.62"/>
<path d="M416.5 585.3H427Q430.9 585.3 430.9 589V598.6H416.5Z" style="stroke-width:0.81;fill:#151515"/>
<path d="M418.5 588.5h8M418.5 591.5h6" style="stroke-width:1.46;stroke:#fff"/>
<rect x="425" y="593" width="3.5" height="3.5" style="stroke-width:0.97;fill:#fff"/>
<path d="M440.4 602.9V595Q440.4 590.6 445 590.6H448Q452.7 590.6 452.7 595V602.9Z" style="stroke-width:1.78"/>
<path d="M446.5 588.5V602.9M441 595.5H452M441.5 598.5H451.5" style="stroke-width:1.46"/>
<path d="M454.3 587.4H481.7V590.1H454.3Z" style="stroke-width:0.81;fill:#151515"/>
<rect x="455.2" y="590.1" width="25.6" height="5.9" style="stroke-width:1.46"/>
<path d="M453.4 596H493.5V601H453.4Z" style="stroke-width:0.81;fill:#151515"/>
<circle cx="510.3" cy="597.8" r="3.4" style="stroke-width:1.78"/>
<path d="M507.3 595.8L495.4 600.2M508.5 600.9L497 605" style="stroke-width:1.78"/>
<path d="M495.4 600.2Q493 603 497 605" style="stroke-width:1.62"/>
<rect x="482" y="594.5" width="8" height="5" style="stroke-width:1.46"/>
<rect x="484" y="596" width="4" height="3" style="stroke-width:0.97;fill:#151515"/>
<path d="M428.7 605H533M428.7 609.3H515" style="stroke-width:1.78"/>
<path d="M431 601.5h9M431 603.2h9" style="stroke-width:1.46"/>
<path d="M417 600H430.9V682H417Z" style="stroke-width:0.81;fill:#2a2a2a"/>
<rect x="418.3" y="603" width="4.2" height="4" style="stroke-width:0.65;fill:#fff;stroke:#fff"/>
<rect x="425" y="605.5" width="4.4" height="3.2" style="stroke-width:0.65;fill:#fff;stroke:#fff" rx="1.5"/>
<rect x="418.3" y="611" width="4.2" height="4" style="stroke-width:0.65;fill:#fff;stroke:#fff"/>
<rect x="425" y="613.5" width="4.4" height="3.2" style="stroke-width:0.65;fill:#fff;stroke:#fff" rx="1.5"/>
<rect x="418.3" y="619.5" width="4.2" height="4" style="stroke-width:0.65;fill:#fff;stroke:#fff"/>
<rect x="425" y="622" width="4.4" height="3.2" style="stroke-width:0.65;fill:#fff;stroke:#fff" rx="1.5"/>
<rect x="418.3" y="628" width="4.2" height="4" style="stroke-width:0.65;fill:#fff;stroke:#fff"/>
<rect x="425" y="630.5" width="4.4" height="3.2" style="stroke-width:0.65;fill:#fff;stroke:#fff" rx="1.5"/>
<rect x="418.3" y="636.5" width="4.2" height="4" style="stroke-width:0.65;fill:#fff;stroke:#fff"/>
<rect x="425" y="639" width="4.4" height="3.2" style="stroke-width:0.65;fill:#fff;stroke:#fff" rx="1.5"/>
<rect x="418.3" y="659" width="4.2" height="4" style="stroke-width:0.65;fill:#fff;stroke:#fff"/>
<rect x="425" y="661.5" width="4.4" height="3.2" style="stroke-width:0.65;fill:#fff;stroke:#fff" rx="1.5"/>
<rect x="418.3" y="668" width="4.2" height="4" style="stroke-width:0.65;fill:#fff;stroke:#fff"/>
<rect x="425" y="670.5" width="4.4" height="3.2" style="stroke-width:0.65;fill:#fff;stroke:#fff" rx="1.5"/>
<rect x="418.3" y="676" width="4.2" height="4" style="stroke-width:0.65;fill:#fff;stroke:#fff"/>
<rect x="425" y="678.5" width="4.4" height="3.2" style="stroke-width:0.65;fill:#fff;stroke:#fff" rx="1.5"/>
<path d="M423.6 600L423.6 682" style="stroke-width:1.13;stroke:#fff"/>
<path d="M414.8 618l2.2 5l-2.2 5l2.2 5l-2.2 5l2.2 5" style="stroke-width:1.62"/>
<rect x="432.5" y="616.2" width="8.5" height="6" style="stroke-width:0.97;fill:#151515" rx="2"/>
<rect x="434" y="617.7" width="2.5" height="2.5" style="stroke-width:0.49;fill:#fff;stroke:#fff"/>
<rect x="432.5" y="625.7" width="8.5" height="6" style="stroke-width:0.97;fill:#151515" rx="2"/>
<rect x="434" y="627.2" width="2.5" height="2.5" style="stroke-width:0.49;fill:#fff;stroke:#fff"/>
<rect x="432.5" y="636.4" width="8.5" height="6" style="stroke-width:0.97;fill:#151515" rx="2"/>
<rect x="434" y="637.9" width="2.5" height="2.5" style="stroke-width:0.49;fill:#fff;stroke:#fff"/>
<path d="M432 610V642M441.5 610V642" style="stroke-width:1.46"/>
<path d="M433 644h8v9h-8zM433 648.5h8" style="stroke-width:1.62"/>
<path d="M442 609.3V639H456.4V609.3" style="stroke-width:1.78"/>
<path d="M450 610V638M452.1 610V638" style="stroke-width:1.30"/>
<path d="M444 612V636" style="stroke-width:1.13"/>
<path d="M459.8 603.3H478.9V618.8H459.8Z" style="stroke-width:1.94"/>
<path d="M458.9 618.8H480.8V657H458.9Z" style="stroke-width:1.94"/>
<path d="M462 620V655M465 620V655M474.5 620V655M477.5 620V655" style="stroke-width:1.30"/>
<path d="M456.4 619.4L482 619.4" style="stroke-width:1.62"/>
<path d="M479.9 622.4L463.4 651.6" style="stroke-width:1.78"/>
<path d="M469.5 644L469.5 654" style="stroke-width:2.27"/>
<path d="M472 644L472 654" style="stroke-width:2.27"/>
<path d="M474.5 644L474.5 654" style="stroke-width:2.27"/>
<path d="M466 642h12v3h-12z" style="stroke-width:1.46"/>
<path d="M483 606V660M486.5 606V640" style="stroke-width:1.62"/>
<rect x="488" y="612" width="7" height="10" style="stroke-width:1.78"/>
<path d="M488 626h8v6h-8zM489.5 615h4v4h-4z" style="stroke-width:1.46"/>
<circle cx="492" cy="640" r="1.7" style="stroke-width:1.62"/>
<path d="M487 646h7v10h-7z" style="stroke-width:1.46"/>
<path d="M497 609.3V622" style="stroke-width:1.46"/>
<path d="M409 643.4Q405.5 647.5 409 652.5Q414 657.5 425 658.5Q431 659.5 434 664.5Q439 672 452 672.5H481V659.8H463Q451 660 447 651Q443.5 642.5 434 642H418.7Z" style="stroke-width:2.11;fill:#fff"/>
<path d="M409 643.4Q413 648 409.5 652.5" style="stroke-width:1.62"/>
<path d="M418.7 642V655.3" style="stroke-width:1.46"/>
<path d="M437 646.5H457V638.5H441" style="stroke-width:1.78"/>
<path d="M437 646.5Q435 642 441 638.5" style="stroke-width:1.62"/>
<circle cx="441.6" cy="654.4" r="1.9" style="stroke-width:1.46;fill:#151515"/>
<path d="M443.5 654.4L457 654.4" style="stroke-width:1.62"/>
<rect x="458.5" y="662.8" width="7" height="3.8" style="stroke-width:1.46;fill:#333" rx="1.9"/>
<path d="M425 642.5V658.5" style="stroke-width:1.30"/>
<path d="M532 587.4Q505 612 496.9 625.2Q488 642 486.5 673H497.5Q498.5 648 509 626.7Q520 612 541.7 597.1Z" style="stroke-width:2.11;fill:#fff"/>
<path d="M521.3 599.7Q526.5 602 528.7 607.1" style="stroke-width:2.92"/>
<path d="M519 604.5L525.5 598.5" style="stroke-width:1.30"/>
<path d="M515.2 680V626Q515.2 619 521 619H526Q531.9 619 531.9 626V672" style="stroke-width:1.94"/>
<path d="M517.5 680V627Q517.5 621.5 521.5 621.5H525.5Q529.5 621.5 529.5 627V672" style="stroke-width:1.30"/>
<path d="M532.6 620Q535 650 532.6 672Q531 677.5 523 677.5" style="stroke-width:1.94"/>
<path d="M509.8 628L509.8 680" style="stroke-width:3.89"/>
<path d="M507 630L507 678" style="stroke-width:1.30"/>
<path d="M512.6 630L512.6 678" style="stroke-width:1.30"/>
<circle cx="504.3" cy="637" r="2.1" style="stroke-width:1.62"/>
<circle cx="515.3" cy="637" r="2.1" style="stroke-width:1.62"/>
<path d="M506 637L513.5 637" style="stroke-width:1.46"/>
<circle cx="504.3" cy="648" r="2.1" style="stroke-width:1.62"/>
<circle cx="515.3" cy="648" r="2.1" style="stroke-width:1.62"/>
<path d="M506 648L513.5 648" style="stroke-width:1.46"/>
<circle cx="504.3" cy="659" r="2.1" style="stroke-width:1.62"/>
<circle cx="515.3" cy="659" r="2.1" style="stroke-width:1.62"/>
<path d="M506 659L513.5 659" style="stroke-width:1.46"/>
<circle cx="504.3" cy="670" r="2.1" style="stroke-width:1.62"/>
<circle cx="515.3" cy="670" r="2.1" style="stroke-width:1.62"/>
<path d="M506 670L513.5 670" style="stroke-width:1.46"/>
<rect x="498.8" y="639.8" width="4.4" height="5.4" style="stroke-width:1.30;fill:#333"/>
<rect x="513.5" y="640" width="3" height="5" style="stroke-width:1.30" rx="1"/>
<rect x="498.8" y="650.8" width="4.4" height="5.4" style="stroke-width:1.30;fill:#333"/>
<rect x="513.5" y="651" width="3" height="5" style="stroke-width:1.30" rx="1"/>
<rect x="498.8" y="661.8" width="4.4" height="5.4" style="stroke-width:1.30;fill:#333"/>
<rect x="513.5" y="662" width="3" height="5" style="stroke-width:1.30" rx="1"/>
<path d="M499 634l3 3M499 676l4 -3" style="stroke-width:1.94"/>
<circle cx="519.3" cy="671.5" r="2.9" style="stroke-width:1.94"/>
<circle cx="524.3" cy="668" r="1.5" style="stroke-width:1.62"/>
<path d="M412 677.8L533 677.8" style="stroke-width:2.27"/>
<path d="M406 681L529 681" style="stroke-width:2.92"/>
<path d="M416 684.3L524 684.3" style="stroke-width:1.62"/>
<path d="M430 673.5h52M430 675.5h52" style="stroke-width:1.46"/>
<path d="M434 677.8l4 -3l5 2l5 -3l5 3" style="stroke-width:1.78"/>
<path d="M405.6 676.5L415.5 676.5" style="stroke-width:2.43"/>
<path d="M405.6 679.3L415.5 679.3" style="stroke-width:2.43"/>
<path d="M405.6 682.1L415.5 682.1" style="stroke-width:2.43"/>
<path d="M405.6 675.7V685.6M415.5 675.7V685.6M404.8 685.6H416.3" style="stroke-width:1.62"/>
<path d="M407.9 685.6V693Q408.5 705.3 421 705.3H517Q528.8 705 528.8 693V685.6" style="stroke-width:1.78"/>
<path d="M414.8 685.6V692Q415 699.3 423 699.3H512Q522 699.3 522.3 692V684" style="stroke-width:1.78"/>
<path d="M431 684V700M433.5 684V699" style="stroke-width:1.62"/>
<path d="M434 686.5H458V689.3H434ZM436 691.5H454V694H436Z" style="stroke-width:2.11"/>
<path d="M436 694v4.5M440 694v4.5M444 694v4.5M448 694v4M452 694v3" style="stroke-width:1.62"/>
<path d="M456 684V705M461.5 688V709M472.5 688V709M477 684V705" style="stroke-width:1.62"/>
<path d="M456 690Q466.5 685.5 477 690" style="stroke-width:1.62"/>
<path d="M462 684h10v3h-10z" style="stroke-width:0.97;fill:#151515"/>
<path d="M449.5 696.5L455.5 692.5V702.5L449.5 706.5Z" style="stroke-width:2.11"/>
<circle cx="452.3" cy="701.8" r="1.2" style="stroke-width:1.30"/>
<path d="M478.5 687Q484 693.5 478.5 701.5M481.5 686Q488 693.5 481.5 702.5" style="stroke-width:1.94"/>
<path d="M486 701L491.3 691.5L496 701M483 704.5H500" style="stroke-width:1.78"/>
<path d="M463 700h8v5h-8z" style="stroke-width:1.46"/>
<rect x="494.6" y="681.8" width="13.7" height="19" style="stroke-width:1.78"/>
<circle cx="501.5" cy="692.4" r="2.5" style="stroke-width:1.78"/>
<rect x="503.2" y="690" width="3.8" height="5" style="stroke-width:0.97;fill:#333"/>
<path d="M498 684.3v3M498 697v3" style="stroke-width:1.46"/>
<path d="M508 688.6L522.8 682.5M508.5 692L523.7 685.7M522.8 682.5Q525 684 523.7 685.7" style="stroke-width:1.78"/>
<path d="M511 700Q519.5 698.5 520.5 689.5" style="stroke-width:1.46"/>
<path d="M433 710.7H505M432.6 713.8H505.3M436 705.3V710.7M502 705.3V710.7" style="stroke-width:1.78"/>
<path d="M436 710.7Q433 711.5 432.6 713.8M502 710.7Q505 711.5 505.3 713.8" style="stroke-width:1.46"/>
<path d="M444.5 610q-2 5 0 10q2 5 0 10q-2 4 0 8" style="stroke-width:2.27"/>
<path d="M484.5 612q2 6 0 12q-2 6 0 12q2 6 0 12q-2 5 0 10" style="stroke-width:2.27"/>
<path d="M436 684.3H456V686.5H436Z" style="stroke-width:0.65;fill:#151515"/>
<path d="M462 695h10v4h-10zM478 704h20v1.8h-20z" style="stroke-width:0.65;fill:#151515"/>
<path d="M440 700h14v3h-14z" style="stroke-width:0.65;fill:#333"/>
<path d="M457 607H479M457 610H479M461 612.5V618" style="stroke-width:1.62"/>
<path d="M499.5 684V699" style="stroke-width:3.24"/>
<path d="M516 686v12" style="stroke-width:1.94"/>
<path d="M418 684.3h12v3h-12z" style="stroke-width:0.65;fill:#333"/>
<path d="M488 660h8v10h-8zM489.5 663h5M489.5 666.5h5" style="stroke-width:1.62"/>
<path d="M468.4 657V672" style="stroke-width:2.59"/>
<path d="M432 656h4v14h-4z" style="stroke-width:1.46"/>
<path d="M498 612l4 5l-3 6l4 6" style="stroke-width:1.94"/>
<path d="M503 609.3V626" style="stroke-width:1.78"/>
</svg>
</body></html>
